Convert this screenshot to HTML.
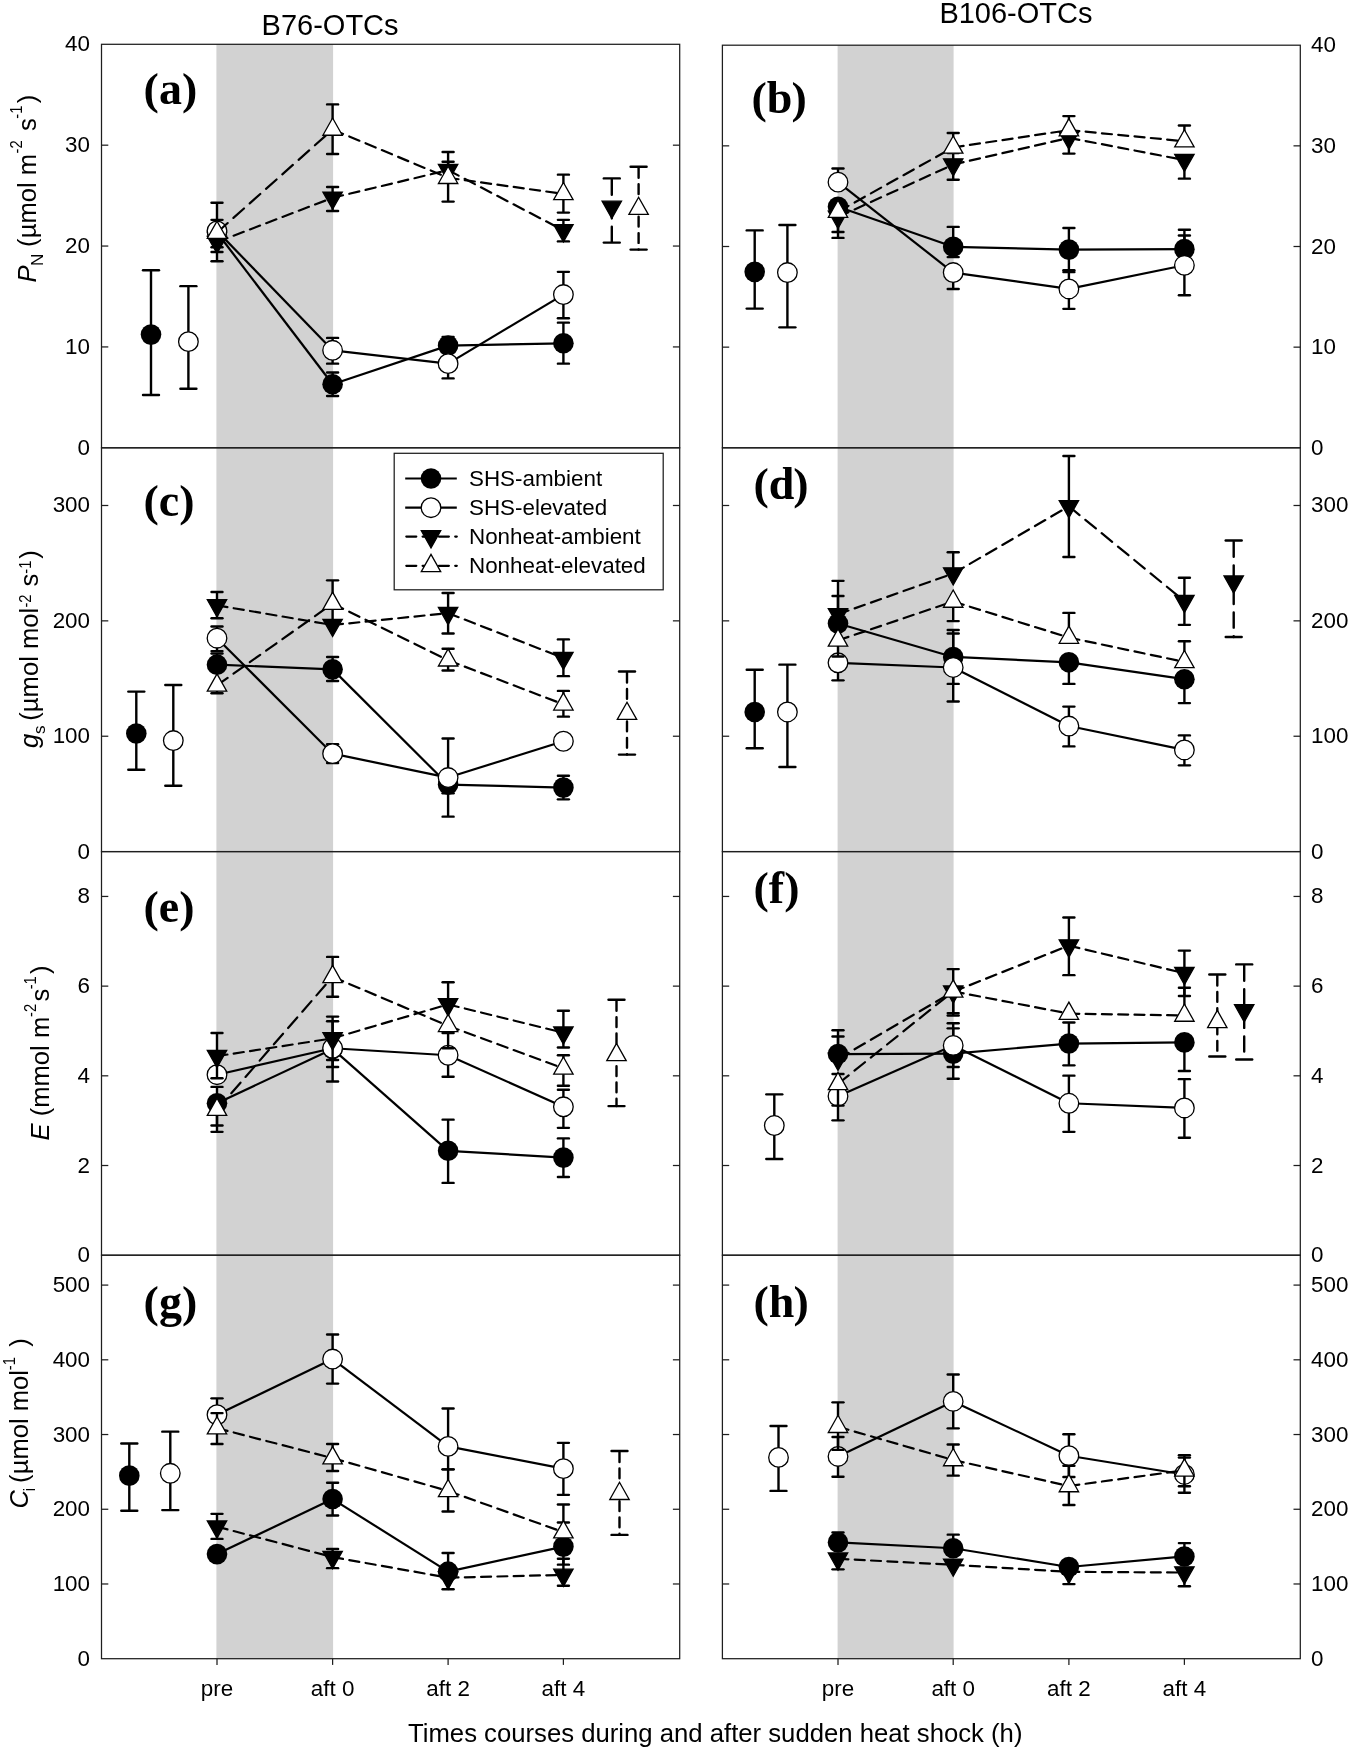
<!DOCTYPE html>
<html lang="en"><head><meta charset="utf-8"><title>Time courses during and after sudden heat shock</title>
<style>html,body{margin:0;padding:0;background:#fff}svg{display:block;filter:grayscale(1)}text{font-family:"Liberation Sans",sans-serif;fill:#000}.pl{font-family:"Liberation Serif",serif;font-weight:bold;font-size:46px}.tk{font-size:22.4px}.ax{font-size:25.7px}.ti{font-size:29px}.lg{font-size:22.4px}</style></head><body>
<svg width="1350" height="1751" viewBox="0 0 1350 1751">
<rect x="0" y="0" width="1350" height="1751" fill="#fff"/>
<rect x="216.4" y="44.3" width="116.7" height="1614.4" fill="#d2d2d2"/>
<rect x="837.6" y="45.2" width="116" height="1613.5" fill="#d2d2d2"/>
<text class="ti" x="261.6" y="35">B76-OTCs</text>
<text class="ti" x="939.4" y="23.4">B106-OTCs</text>
<g>
<line x1="217" y1="219.86" x2="217" y2="247.26" stroke="#000" stroke-width="2.4"/>
<line x1="211.5" y1="219.86" x2="222.5" y2="219.86" stroke="#000" stroke-width="2.4" stroke-linecap="round"/>
<line x1="211.5" y1="247.26" x2="222.5" y2="247.26" stroke="#000" stroke-width="2.4" stroke-linecap="round"/>
<line x1="332.6" y1="372.55" x2="332.6" y2="395.97" stroke="#000" stroke-width="2.4"/>
<line x1="327.1" y1="372.55" x2="338.1" y2="372.55" stroke="#000" stroke-width="2.4" stroke-linecap="round"/>
<line x1="327.1" y1="395.97" x2="338.1" y2="395.97" stroke="#000" stroke-width="2.4" stroke-linecap="round"/>
<line x1="448.1" y1="336.96" x2="448.1" y2="345.62" stroke="#000" stroke-width="2.4"/>
<line x1="442.6" y1="336.96" x2="453.6" y2="336.96" stroke="#000" stroke-width="2.4" stroke-linecap="round"/>
<line x1="563.4" y1="322.67" x2="563.4" y2="363.65" stroke="#000" stroke-width="2.4"/>
<line x1="557.9" y1="322.67" x2="568.9" y2="322.67" stroke="#000" stroke-width="2.4" stroke-linecap="round"/>
<line x1="557.9" y1="363.65" x2="568.9" y2="363.65" stroke="#000" stroke-width="2.4" stroke-linecap="round"/>
<line x1="217" y1="232.51" x2="332.6" y2="384.26" stroke="#000" stroke-width="2.2"/>
<line x1="332.6" y1="384.26" x2="448.1" y2="345.62" stroke="#000" stroke-width="2.2"/>
<line x1="448.1" y1="345.62" x2="563.4" y2="343.28" stroke="#000" stroke-width="2.2"/>
<circle cx="217" cy="232.51" r="10.3" fill="#000"/>
<circle cx="332.6" cy="384.26" r="10.3" fill="#000"/>
<circle cx="448.1" cy="345.62" r="10.3" fill="#000"/>
<circle cx="563.4" cy="343.28" r="10.3" fill="#000"/>
<line x1="217" y1="202.76" x2="217" y2="261.31" stroke="#000" stroke-width="2.4"/>
<line x1="211.5" y1="202.76" x2="222.5" y2="202.76" stroke="#000" stroke-width="2.4" stroke-linecap="round"/>
<line x1="211.5" y1="261.31" x2="222.5" y2="261.31" stroke="#000" stroke-width="2.4" stroke-linecap="round"/>
<line x1="332.6" y1="337.89" x2="332.6" y2="363.65" stroke="#000" stroke-width="2.4"/>
<line x1="327.1" y1="337.89" x2="338.1" y2="337.89" stroke="#000" stroke-width="2.4" stroke-linecap="round"/>
<line x1="327.1" y1="363.65" x2="338.1" y2="363.65" stroke="#000" stroke-width="2.4" stroke-linecap="round"/>
<line x1="448.1" y1="363.65" x2="448.1" y2="378.41" stroke="#000" stroke-width="2.4"/>
<line x1="442.6" y1="378.41" x2="453.6" y2="378.41" stroke="#000" stroke-width="2.4" stroke-linecap="round"/>
<line x1="563.4" y1="271.85" x2="563.4" y2="318.22" stroke="#000" stroke-width="2.4"/>
<line x1="557.9" y1="271.85" x2="568.9" y2="271.85" stroke="#000" stroke-width="2.4" stroke-linecap="round"/>
<line x1="557.9" y1="318.22" x2="568.9" y2="318.22" stroke="#000" stroke-width="2.4" stroke-linecap="round"/>
<line x1="217" y1="230.87" x2="332.6" y2="350.3" stroke="#000" stroke-width="2.2"/>
<line x1="332.6" y1="350.3" x2="448.1" y2="363.65" stroke="#000" stroke-width="2.2"/>
<line x1="448.1" y1="363.65" x2="563.4" y2="294.57" stroke="#000" stroke-width="2.2"/>
<circle cx="217" cy="230.87" r="9.8" fill="#fff" stroke="#000" stroke-width="1.3"/>
<circle cx="332.6" cy="350.3" r="9.8" fill="#fff" stroke="#000" stroke-width="1.3"/>
<circle cx="448.1" cy="363.65" r="9.8" fill="#fff" stroke="#000" stroke-width="1.3"/>
<circle cx="563.4" cy="294.57" r="9.8" fill="#fff" stroke="#000" stroke-width="1.3"/>
<line x1="217" y1="244.92" x2="217" y2="251.94" stroke="#000" stroke-width="2.4"/>
<line x1="211.5" y1="251.94" x2="222.5" y2="251.94" stroke="#000" stroke-width="2.4" stroke-linecap="round"/>
<line x1="332.6" y1="187.07" x2="332.6" y2="210.96" stroke="#000" stroke-width="2.4"/>
<line x1="327.1" y1="187.07" x2="338.1" y2="187.07" stroke="#000" stroke-width="2.4" stroke-linecap="round"/>
<line x1="327.1" y1="210.96" x2="338.1" y2="210.96" stroke="#000" stroke-width="2.4" stroke-linecap="round"/>
<line x1="448.1" y1="151.94" x2="448.1" y2="173.02" stroke="#000" stroke-width="2.4"/>
<line x1="442.6" y1="151.94" x2="453.6" y2="151.94" stroke="#000" stroke-width="2.4" stroke-linecap="round"/>
<line x1="563.4" y1="219.86" x2="563.4" y2="241.41" stroke="#000" stroke-width="2.4"/>
<line x1="557.9" y1="219.86" x2="568.9" y2="219.86" stroke="#000" stroke-width="2.4" stroke-linecap="round"/>
<line x1="557.9" y1="241.41" x2="568.9" y2="241.41" stroke="#000" stroke-width="2.4" stroke-linecap="round"/>
<line x1="217" y1="242.05" x2="332.6" y2="197.79" stroke="#000" stroke-width="2.2" stroke-linecap="round" stroke-dasharray="10.86 6.59" stroke-dashoffset="-0.35"/>
<line x1="332.6" y1="197.79" x2="448.1" y2="170.15" stroke="#000" stroke-width="2.2" stroke-linecap="round" stroke-dasharray="10.34 6.42" stroke-dashoffset="-0.38"/>
<line x1="448.1" y1="170.15" x2="563.4" y2="230.34" stroke="#000" stroke-width="2.2" stroke-linecap="round" stroke-dasharray="11.56 6.82" stroke-dashoffset="-0.31"/>
<path d="M207.3 236.32L226.7 236.32L217 253.52Z" fill="#000" stroke="#000" stroke-width="1.3" stroke-linejoin="miter"/>
<path d="M322.9 192.06L342.3 192.06L332.6 209.26Z" fill="#000" stroke="#000" stroke-width="1.3" stroke-linejoin="miter"/>
<path d="M438.4 164.42L457.8 164.42L448.1 181.62Z" fill="#000" stroke="#000" stroke-width="1.3" stroke-linejoin="miter"/>
<path d="M553.7 224.61L573.1 224.61L563.4 241.81Z" fill="#000" stroke="#000" stroke-width="1.3" stroke-linejoin="miter"/>
<line x1="332.6" y1="104.4" x2="332.6" y2="154.05" stroke="#000" stroke-width="2.4"/>
<line x1="327.1" y1="104.4" x2="338.1" y2="104.4" stroke="#000" stroke-width="2.4" stroke-linecap="round"/>
<line x1="327.1" y1="154.05" x2="338.1" y2="154.05" stroke="#000" stroke-width="2.4" stroke-linecap="round"/>
<line x1="448.1" y1="161.78" x2="448.1" y2="201.59" stroke="#000" stroke-width="2.4"/>
<line x1="442.6" y1="161.78" x2="453.6" y2="161.78" stroke="#000" stroke-width="2.4" stroke-linecap="round"/>
<line x1="442.6" y1="201.59" x2="453.6" y2="201.59" stroke="#000" stroke-width="2.4" stroke-linecap="round"/>
<line x1="563.4" y1="174.66" x2="563.4" y2="212.6" stroke="#000" stroke-width="2.4"/>
<line x1="557.9" y1="174.66" x2="568.9" y2="174.66" stroke="#000" stroke-width="2.4" stroke-linecap="round"/>
<line x1="557.9" y1="212.6" x2="568.9" y2="212.6" stroke="#000" stroke-width="2.4" stroke-linecap="round"/>
<line x1="217" y1="232.56" x2="332.6" y2="129.52" stroke="#000" stroke-width="2.2" stroke-linecap="round" stroke-dasharray="14.14 7.69" stroke-dashoffset="-0.16"/>
<line x1="332.6" y1="129.52" x2="448.1" y2="177.76" stroke="#000" stroke-width="2.2" stroke-linecap="round" stroke-dasharray="11.02 6.64" stroke-dashoffset="-0.34"/>
<line x1="448.1" y1="177.76" x2="563.4" y2="193.92" stroke="#000" stroke-width="2.2" stroke-linecap="round" stroke-dasharray="10.12 6.34" stroke-dashoffset="-0.39"/>
<path d="M207.3 238.3L226.7 238.3L217 221.1Z" fill="#fff" stroke="#000" stroke-width="1.3" stroke-linejoin="miter"/>
<path d="M322.9 135.25L342.3 135.25L332.6 118.05Z" fill="#fff" stroke="#000" stroke-width="1.3" stroke-linejoin="miter"/>
<path d="M438.4 183.49L457.8 183.49L448.1 166.29Z" fill="#fff" stroke="#000" stroke-width="1.3" stroke-linejoin="miter"/>
<path d="M553.7 199.65L573.1 199.65L563.4 182.45Z" fill="#fff" stroke="#000" stroke-width="1.3" stroke-linejoin="miter"/>
<line x1="151" y1="270.21" x2="151" y2="395.04" stroke="#000" stroke-width="2.4"/>
<line x1="143" y1="270.21" x2="159" y2="270.21" stroke="#000" stroke-width="2.4" stroke-linecap="round"/>
<line x1="143" y1="395.04" x2="159" y2="395.04" stroke="#000" stroke-width="2.4" stroke-linecap="round"/>
<circle cx="151" cy="334.61" r="10.3" fill="#000"/>
<line x1="188.4" y1="286.14" x2="188.4" y2="388.71" stroke="#000" stroke-width="2.4"/>
<line x1="180.4" y1="286.14" x2="196.4" y2="286.14" stroke="#000" stroke-width="2.4" stroke-linecap="round"/>
<line x1="180.4" y1="388.71" x2="196.4" y2="388.71" stroke="#000" stroke-width="2.4" stroke-linecap="round"/>
<circle cx="188.4" cy="341.64" r="9.8" fill="#fff" stroke="#000" stroke-width="1.3"/>
<line x1="611.8" y1="178.41" x2="611.8" y2="242.58" stroke="#000" stroke-width="2.4" stroke-linecap="round" stroke-dasharray="15.1 8.5" stroke-dashoffset="-1.2"/>
<line x1="603.8" y1="178.41" x2="619.8" y2="178.41" stroke="#000" stroke-width="2.4" stroke-linecap="round"/>
<line x1="603.8" y1="242.58" x2="619.8" y2="242.58" stroke="#000" stroke-width="2.4" stroke-linecap="round"/>
<path d="M602.1 201.19L621.5 201.19L611.8 218.39Z" fill="#000" stroke="#000" stroke-width="1.3" stroke-linejoin="miter"/>
<line x1="638.6" y1="166.7" x2="638.6" y2="249.6" stroke="#000" stroke-width="2.4" stroke-linecap="round" stroke-dasharray="9.8 6.5" stroke-dashoffset="-1.2"/>
<line x1="630.6" y1="166.7" x2="646.6" y2="166.7" stroke="#000" stroke-width="2.4" stroke-linecap="round"/>
<line x1="630.6" y1="249.6" x2="646.6" y2="249.6" stroke="#000" stroke-width="2.4" stroke-linecap="round"/>
<path d="M628.9 214.41L648.3 214.41L638.6 197.21Z" fill="#fff" stroke="#000" stroke-width="1.3" stroke-linejoin="miter"/>
</g>
<g>
<line x1="838" y1="206.74" x2="838" y2="232.04" stroke="#000" stroke-width="2.4"/>
<line x1="832.5" y1="232.04" x2="843.5" y2="232.04" stroke="#000" stroke-width="2.4" stroke-linecap="round"/>
<line x1="953.2" y1="226.89" x2="953.2" y2="257.1" stroke="#000" stroke-width="2.4"/>
<line x1="947.7" y1="226.89" x2="958.7" y2="226.89" stroke="#000" stroke-width="2.4" stroke-linecap="round"/>
<line x1="947.7" y1="257.1" x2="958.7" y2="257.1" stroke="#000" stroke-width="2.4" stroke-linecap="round"/>
<line x1="1068.9" y1="228.06" x2="1068.9" y2="272.08" stroke="#000" stroke-width="2.4"/>
<line x1="1063.4" y1="228.06" x2="1074.4" y2="228.06" stroke="#000" stroke-width="2.4" stroke-linecap="round"/>
<line x1="1063.4" y1="272.08" x2="1074.4" y2="272.08" stroke="#000" stroke-width="2.4" stroke-linecap="round"/>
<line x1="1184.4" y1="229.7" x2="1184.4" y2="249.13" stroke="#000" stroke-width="2.4"/>
<line x1="1178.9" y1="229.7" x2="1189.9" y2="229.7" stroke="#000" stroke-width="2.4" stroke-linecap="round"/>
<line x1="838" y1="206.74" x2="953.2" y2="246.79" stroke="#000" stroke-width="2.2"/>
<line x1="953.2" y1="246.79" x2="1068.9" y2="249.6" stroke="#000" stroke-width="2.2"/>
<line x1="1068.9" y1="249.6" x2="1184.4" y2="249.13" stroke="#000" stroke-width="2.2"/>
<circle cx="838" cy="206.74" r="10.3" fill="#000"/>
<circle cx="953.2" cy="246.79" r="10.3" fill="#000"/>
<circle cx="1068.9" cy="249.6" r="10.3" fill="#000"/>
<circle cx="1184.4" cy="249.13" r="10.3" fill="#000"/>
<line x1="838" y1="168.57" x2="838" y2="182.15" stroke="#000" stroke-width="2.4"/>
<line x1="832.5" y1="168.57" x2="843.5" y2="168.57" stroke="#000" stroke-width="2.4" stroke-linecap="round"/>
<line x1="953.2" y1="272.55" x2="953.2" y2="288.95" stroke="#000" stroke-width="2.4"/>
<line x1="947.7" y1="288.95" x2="958.7" y2="288.95" stroke="#000" stroke-width="2.4" stroke-linecap="round"/>
<line x1="1068.9" y1="270.21" x2="1068.9" y2="308.85" stroke="#000" stroke-width="2.4"/>
<line x1="1063.4" y1="270.21" x2="1074.4" y2="270.21" stroke="#000" stroke-width="2.4" stroke-linecap="round"/>
<line x1="1063.4" y1="308.85" x2="1074.4" y2="308.85" stroke="#000" stroke-width="2.4" stroke-linecap="round"/>
<line x1="1184.4" y1="235.55" x2="1184.4" y2="295.27" stroke="#000" stroke-width="2.4"/>
<line x1="1178.9" y1="235.55" x2="1189.9" y2="235.55" stroke="#000" stroke-width="2.4" stroke-linecap="round"/>
<line x1="1178.9" y1="295.27" x2="1189.9" y2="295.27" stroke="#000" stroke-width="2.4" stroke-linecap="round"/>
<line x1="838" y1="182.15" x2="953.2" y2="272.55" stroke="#000" stroke-width="2.2"/>
<line x1="953.2" y1="272.55" x2="1068.9" y2="288.95" stroke="#000" stroke-width="2.2"/>
<line x1="1068.9" y1="288.95" x2="1184.4" y2="265.29" stroke="#000" stroke-width="2.2"/>
<circle cx="838" cy="182.15" r="9.8" fill="#fff" stroke="#000" stroke-width="1.3"/>
<circle cx="953.2" cy="272.55" r="9.8" fill="#fff" stroke="#000" stroke-width="1.3"/>
<circle cx="1068.9" cy="288.95" r="9.8" fill="#fff" stroke="#000" stroke-width="1.3"/>
<circle cx="1184.4" cy="265.29" r="9.8" fill="#fff" stroke="#000" stroke-width="1.3"/>
<line x1="838" y1="219.86" x2="838" y2="237.89" stroke="#000" stroke-width="2.4"/>
<line x1="832.5" y1="237.89" x2="843.5" y2="237.89" stroke="#000" stroke-width="2.4" stroke-linecap="round"/>
<line x1="953.2" y1="153.11" x2="953.2" y2="179.81" stroke="#000" stroke-width="2.4"/>
<line x1="947.7" y1="153.11" x2="958.7" y2="153.11" stroke="#000" stroke-width="2.4" stroke-linecap="round"/>
<line x1="947.7" y1="179.81" x2="958.7" y2="179.81" stroke="#000" stroke-width="2.4" stroke-linecap="round"/>
<line x1="1068.9" y1="140.7" x2="1068.9" y2="153.58" stroke="#000" stroke-width="2.4"/>
<line x1="1063.4" y1="153.58" x2="1074.4" y2="153.58" stroke="#000" stroke-width="2.4" stroke-linecap="round"/>
<line x1="1184.4" y1="162.95" x2="1184.4" y2="178.64" stroke="#000" stroke-width="2.4"/>
<line x1="1178.9" y1="178.64" x2="1189.9" y2="178.64" stroke="#000" stroke-width="2.4" stroke-linecap="round"/>
<line x1="838" y1="216.99" x2="953.2" y2="164.53" stroke="#000" stroke-width="2.2" stroke-linecap="round" stroke-dasharray="11.21 6.71" stroke-dashoffset="-0.33"/>
<line x1="953.2" y1="164.53" x2="1068.9" y2="137.84" stroke="#000" stroke-width="2.2" stroke-linecap="round" stroke-dasharray="10.32 6.41" stroke-dashoffset="-0.38"/>
<line x1="1068.9" y1="137.84" x2="1184.4" y2="160.08" stroke="#000" stroke-width="2.2" stroke-linecap="round" stroke-dasharray="10.22 6.38" stroke-dashoffset="-0.39"/>
<path d="M828.3 211.26L847.7 211.26L838 228.46Z" fill="#000" stroke="#000" stroke-width="1.3" stroke-linejoin="miter"/>
<path d="M943.5 158.8L962.9 158.8L953.2 176Z" fill="#000" stroke="#000" stroke-width="1.3" stroke-linejoin="miter"/>
<path d="M1059.2 132.1L1078.6 132.1L1068.9 149.3Z" fill="#000" stroke="#000" stroke-width="1.3" stroke-linejoin="miter"/>
<path d="M1174.7 154.35L1194.1 154.35L1184.4 171.55Z" fill="#000" stroke="#000" stroke-width="1.3" stroke-linejoin="miter"/>
<line x1="953.2" y1="132.97" x2="953.2" y2="144.57" stroke="#000" stroke-width="2.4"/>
<line x1="947.7" y1="132.97" x2="958.7" y2="132.97" stroke="#000" stroke-width="2.4" stroke-linecap="round"/>
<line x1="1068.9" y1="116.11" x2="1068.9" y2="127.24" stroke="#000" stroke-width="2.4"/>
<line x1="1063.4" y1="116.11" x2="1074.4" y2="116.11" stroke="#000" stroke-width="2.4" stroke-linecap="round"/>
<line x1="1184.4" y1="125.48" x2="1184.4" y2="138.36" stroke="#000" stroke-width="2.4"/>
<line x1="1178.9" y1="125.48" x2="1189.9" y2="125.48" stroke="#000" stroke-width="2.4" stroke-linecap="round"/>
<line x1="838" y1="211.72" x2="953.2" y2="147.43" stroke="#000" stroke-width="2.2" stroke-linecap="round" stroke-dasharray="11.77 6.9" stroke-dashoffset="-0.3"/>
<line x1="953.2" y1="147.43" x2="1068.9" y2="130.1" stroke="#000" stroke-width="2.2" stroke-linecap="round" stroke-dasharray="10.14 6.35" stroke-dashoffset="-0.39"/>
<line x1="1068.9" y1="130.1" x2="1184.4" y2="141.23" stroke="#000" stroke-width="2.2" stroke-linecap="round" stroke-dasharray="10.06 6.32" stroke-dashoffset="-0.4"/>
<path d="M828.3 217.45L847.7 217.45L838 200.25Z" fill="#fff" stroke="#000" stroke-width="1.3" stroke-linejoin="miter"/>
<path d="M943.5 153.17L962.9 153.17L953.2 135.97Z" fill="#fff" stroke="#000" stroke-width="1.3" stroke-linejoin="miter"/>
<path d="M1059.2 135.84L1078.6 135.84L1068.9 118.64Z" fill="#fff" stroke="#000" stroke-width="1.3" stroke-linejoin="miter"/>
<path d="M1174.7 146.96L1194.1 146.96L1184.4 129.76Z" fill="#fff" stroke="#000" stroke-width="1.3" stroke-linejoin="miter"/>
<line x1="754.7" y1="230.4" x2="754.7" y2="308.62" stroke="#000" stroke-width="2.4"/>
<line x1="746.7" y1="230.4" x2="762.7" y2="230.4" stroke="#000" stroke-width="2.4" stroke-linecap="round"/>
<line x1="746.7" y1="308.62" x2="762.7" y2="308.62" stroke="#000" stroke-width="2.4" stroke-linecap="round"/>
<circle cx="754.7" cy="271.85" r="10.3" fill="#000"/>
<line x1="787.4" y1="225.01" x2="787.4" y2="327.35" stroke="#000" stroke-width="2.4"/>
<line x1="779.4" y1="225.01" x2="795.4" y2="225.01" stroke="#000" stroke-width="2.4" stroke-linecap="round"/>
<line x1="779.4" y1="327.35" x2="795.4" y2="327.35" stroke="#000" stroke-width="2.4" stroke-linecap="round"/>
<circle cx="787.4" cy="272.55" r="9.8" fill="#fff" stroke="#000" stroke-width="1.3"/>
</g>
<g>
<line x1="217" y1="653.43" x2="217" y2="664.67" stroke="#000" stroke-width="2.4"/>
<line x1="211.5" y1="653.43" x2="222.5" y2="653.43" stroke="#000" stroke-width="2.4" stroke-linecap="round"/>
<line x1="332.6" y1="656.94" x2="332.6" y2="681.07" stroke="#000" stroke-width="2.4"/>
<line x1="327.1" y1="656.94" x2="338.1" y2="656.94" stroke="#000" stroke-width="2.4" stroke-linecap="round"/>
<line x1="327.1" y1="681.07" x2="338.1" y2="681.07" stroke="#000" stroke-width="2.4" stroke-linecap="round"/>
<line x1="448.1" y1="784.58" x2="448.1" y2="793.24" stroke="#000" stroke-width="2.4"/>
<line x1="442.6" y1="793.24" x2="453.6" y2="793.24" stroke="#000" stroke-width="2.4" stroke-linecap="round"/>
<line x1="563.4" y1="775.68" x2="563.4" y2="799.33" stroke="#000" stroke-width="2.4"/>
<line x1="557.9" y1="775.68" x2="568.9" y2="775.68" stroke="#000" stroke-width="2.4" stroke-linecap="round"/>
<line x1="557.9" y1="799.33" x2="568.9" y2="799.33" stroke="#000" stroke-width="2.4" stroke-linecap="round"/>
<line x1="217" y1="664.67" x2="332.6" y2="669.36" stroke="#000" stroke-width="2.2"/>
<line x1="332.6" y1="669.36" x2="448.1" y2="784.58" stroke="#000" stroke-width="2.2"/>
<line x1="448.1" y1="784.58" x2="563.4" y2="787.62" stroke="#000" stroke-width="2.2"/>
<circle cx="217" cy="664.67" r="10.3" fill="#000"/>
<circle cx="332.6" cy="669.36" r="10.3" fill="#000"/>
<circle cx="448.1" cy="784.58" r="10.3" fill="#000"/>
<circle cx="563.4" cy="787.62" r="10.3" fill="#000"/>
<line x1="217" y1="626.5" x2="217" y2="651.09" stroke="#000" stroke-width="2.4"/>
<line x1="211.5" y1="626.5" x2="222.5" y2="626.5" stroke="#000" stroke-width="2.4" stroke-linecap="round"/>
<line x1="211.5" y1="651.09" x2="222.5" y2="651.09" stroke="#000" stroke-width="2.4" stroke-linecap="round"/>
<line x1="332.6" y1="744.3" x2="332.6" y2="763.03" stroke="#000" stroke-width="2.4"/>
<line x1="327.1" y1="744.3" x2="338.1" y2="744.3" stroke="#000" stroke-width="2.4" stroke-linecap="round"/>
<line x1="327.1" y1="763.03" x2="338.1" y2="763.03" stroke="#000" stroke-width="2.4" stroke-linecap="round"/>
<line x1="448.1" y1="738.44" x2="448.1" y2="816.66" stroke="#000" stroke-width="2.4"/>
<line x1="442.6" y1="738.44" x2="453.6" y2="738.44" stroke="#000" stroke-width="2.4" stroke-linecap="round"/>
<line x1="442.6" y1="816.66" x2="453.6" y2="816.66" stroke="#000" stroke-width="2.4" stroke-linecap="round"/>
<line x1="217" y1="638.21" x2="332.6" y2="753.67" stroke="#000" stroke-width="2.2"/>
<line x1="332.6" y1="753.67" x2="448.1" y2="777.55" stroke="#000" stroke-width="2.2"/>
<line x1="448.1" y1="777.55" x2="563.4" y2="741.25" stroke="#000" stroke-width="2.2"/>
<circle cx="217" cy="638.21" r="9.8" fill="#fff" stroke="#000" stroke-width="1.3"/>
<circle cx="332.6" cy="753.67" r="9.8" fill="#fff" stroke="#000" stroke-width="1.3"/>
<circle cx="448.1" cy="777.55" r="9.8" fill="#fff" stroke="#000" stroke-width="1.3"/>
<circle cx="563.4" cy="741.25" r="9.8" fill="#fff" stroke="#000" stroke-width="1.3"/>
<line x1="217" y1="592.07" x2="217" y2="618.3" stroke="#000" stroke-width="2.4"/>
<line x1="211.5" y1="592.07" x2="222.5" y2="592.07" stroke="#000" stroke-width="2.4" stroke-linecap="round"/>
<line x1="211.5" y1="618.3" x2="222.5" y2="618.3" stroke="#000" stroke-width="2.4" stroke-linecap="round"/>
<line x1="332.6" y1="606.59" x2="332.6" y2="627.9" stroke="#000" stroke-width="2.4"/>
<line x1="327.1" y1="606.59" x2="338.1" y2="606.59" stroke="#000" stroke-width="2.4" stroke-linecap="round"/>
<line x1="448.1" y1="593.01" x2="448.1" y2="633.52" stroke="#000" stroke-width="2.4"/>
<line x1="442.6" y1="593.01" x2="453.6" y2="593.01" stroke="#000" stroke-width="2.4" stroke-linecap="round"/>
<line x1="442.6" y1="633.52" x2="453.6" y2="633.52" stroke="#000" stroke-width="2.4" stroke-linecap="round"/>
<line x1="563.4" y1="639.38" x2="563.4" y2="676.15" stroke="#000" stroke-width="2.4"/>
<line x1="557.9" y1="639.38" x2="568.9" y2="639.38" stroke="#000" stroke-width="2.4" stroke-linecap="round"/>
<line x1="557.9" y1="676.15" x2="568.9" y2="676.15" stroke="#000" stroke-width="2.4" stroke-linecap="round"/>
<line x1="217" y1="605.37" x2="332.6" y2="625.04" stroke="#000" stroke-width="2.2" stroke-linecap="round" stroke-dasharray="10.18 6.36" stroke-dashoffset="-0.39"/>
<line x1="332.6" y1="625.04" x2="448.1" y2="613.09" stroke="#000" stroke-width="2.2" stroke-linecap="round" stroke-dasharray="10.07 6.32" stroke-dashoffset="-0.4"/>
<line x1="448.1" y1="613.09" x2="563.4" y2="658.06" stroke="#000" stroke-width="2.2" stroke-linecap="round" stroke-dasharray="10.89 6.6" stroke-dashoffset="-0.35"/>
<path d="M207.3 599.63L226.7 599.63L217 616.83Z" fill="#000" stroke="#000" stroke-width="1.3" stroke-linejoin="miter"/>
<path d="M322.9 619.3L342.3 619.3L332.6 636.5Z" fill="#000" stroke="#000" stroke-width="1.3" stroke-linejoin="miter"/>
<path d="M438.4 607.36L457.8 607.36L448.1 624.56Z" fill="#000" stroke="#000" stroke-width="1.3" stroke-linejoin="miter"/>
<path d="M553.7 652.33L573.1 652.33L563.4 669.53Z" fill="#000" stroke="#000" stroke-width="1.3" stroke-linejoin="miter"/>
<line x1="217" y1="682.47" x2="217" y2="693.24" stroke="#000" stroke-width="2.4"/>
<line x1="211.5" y1="693.24" x2="222.5" y2="693.24" stroke="#000" stroke-width="2.4" stroke-linecap="round"/>
<line x1="332.6" y1="580.36" x2="332.6" y2="600.74" stroke="#000" stroke-width="2.4"/>
<line x1="327.1" y1="580.36" x2="338.1" y2="580.36" stroke="#000" stroke-width="2.4" stroke-linecap="round"/>
<line x1="448.1" y1="648.75" x2="448.1" y2="670.53" stroke="#000" stroke-width="2.4"/>
<line x1="442.6" y1="648.75" x2="453.6" y2="648.75" stroke="#000" stroke-width="2.4" stroke-linecap="round"/>
<line x1="442.6" y1="670.53" x2="453.6" y2="670.53" stroke="#000" stroke-width="2.4" stroke-linecap="round"/>
<line x1="563.4" y1="690.9" x2="563.4" y2="716.66" stroke="#000" stroke-width="2.4"/>
<line x1="557.9" y1="690.9" x2="568.9" y2="690.9" stroke="#000" stroke-width="2.4" stroke-linecap="round"/>
<line x1="557.9" y1="716.66" x2="568.9" y2="716.66" stroke="#000" stroke-width="2.4" stroke-linecap="round"/>
<line x1="217" y1="685.34" x2="332.6" y2="603.6" stroke="#000" stroke-width="2.2" stroke-linecap="round" stroke-dasharray="12.74 7.22" stroke-dashoffset="-0.24"/>
<line x1="332.6" y1="603.6" x2="448.1" y2="660.28" stroke="#000" stroke-width="2.2" stroke-linecap="round" stroke-dasharray="11.39 6.77" stroke-dashoffset="-0.32"/>
<line x1="448.1" y1="660.28" x2="563.4" y2="704.31" stroke="#000" stroke-width="2.2" stroke-linecap="round" stroke-dasharray="10.86 6.59" stroke-dashoffset="-0.35"/>
<path d="M207.3 691.07L226.7 691.07L217 673.87Z" fill="#fff" stroke="#000" stroke-width="1.3" stroke-linejoin="miter"/>
<path d="M322.9 609.34L342.3 609.34L332.6 592.14Z" fill="#fff" stroke="#000" stroke-width="1.3" stroke-linejoin="miter"/>
<path d="M438.4 666.01L457.8 666.01L448.1 648.81Z" fill="#fff" stroke="#000" stroke-width="1.3" stroke-linejoin="miter"/>
<path d="M553.7 710.04L573.1 710.04L563.4 692.84Z" fill="#fff" stroke="#000" stroke-width="1.3" stroke-linejoin="miter"/>
<line x1="136.3" y1="691.6" x2="136.3" y2="769.82" stroke="#000" stroke-width="2.4"/>
<line x1="128.3" y1="691.6" x2="144.3" y2="691.6" stroke="#000" stroke-width="2.4" stroke-linecap="round"/>
<line x1="128.3" y1="769.82" x2="144.3" y2="769.82" stroke="#000" stroke-width="2.4" stroke-linecap="round"/>
<circle cx="136.3" cy="733.52" r="10.3" fill="#000"/>
<line x1="173.3" y1="685.05" x2="173.3" y2="785.75" stroke="#000" stroke-width="2.4"/>
<line x1="165.3" y1="685.05" x2="181.3" y2="685.05" stroke="#000" stroke-width="2.4" stroke-linecap="round"/>
<line x1="165.3" y1="785.75" x2="181.3" y2="785.75" stroke="#000" stroke-width="2.4" stroke-linecap="round"/>
<circle cx="173.3" cy="740.55" r="9.8" fill="#fff" stroke="#000" stroke-width="1.3"/>
<line x1="627" y1="671.46" x2="627" y2="754.6" stroke="#000" stroke-width="2.4" stroke-linecap="round" stroke-dasharray="9.8 6.5" stroke-dashoffset="-1.2"/>
<line x1="619" y1="671.46" x2="635" y2="671.46" stroke="#000" stroke-width="2.4" stroke-linecap="round"/>
<line x1="619" y1="754.6" x2="635" y2="754.6" stroke="#000" stroke-width="2.4" stroke-linecap="round"/>
<path d="M617.3 719.41L636.7 719.41L627 702.21Z" fill="#fff" stroke="#000" stroke-width="1.3" stroke-linejoin="miter"/>
</g>
<g>
<line x1="953.2" y1="630.01" x2="953.2" y2="683.88" stroke="#000" stroke-width="2.4"/>
<line x1="947.7" y1="630.01" x2="958.7" y2="630.01" stroke="#000" stroke-width="2.4" stroke-linecap="round"/>
<line x1="947.7" y1="683.88" x2="958.7" y2="683.88" stroke="#000" stroke-width="2.4" stroke-linecap="round"/>
<line x1="1068.9" y1="662.33" x2="1068.9" y2="683.88" stroke="#000" stroke-width="2.4"/>
<line x1="1063.4" y1="683.88" x2="1074.4" y2="683.88" stroke="#000" stroke-width="2.4" stroke-linecap="round"/>
<line x1="1184.4" y1="679.19" x2="1184.4" y2="703.08" stroke="#000" stroke-width="2.4"/>
<line x1="1178.9" y1="703.08" x2="1189.9" y2="703.08" stroke="#000" stroke-width="2.4" stroke-linecap="round"/>
<line x1="838" y1="623.45" x2="953.2" y2="656.94" stroke="#000" stroke-width="2.2"/>
<line x1="953.2" y1="656.94" x2="1068.9" y2="662.33" stroke="#000" stroke-width="2.2"/>
<line x1="1068.9" y1="662.33" x2="1184.4" y2="679.19" stroke="#000" stroke-width="2.2"/>
<circle cx="838" cy="623.45" r="10.3" fill="#000"/>
<circle cx="953.2" cy="656.94" r="10.3" fill="#000"/>
<circle cx="1068.9" cy="662.33" r="10.3" fill="#000"/>
<circle cx="1184.4" cy="679.19" r="10.3" fill="#000"/>
<line x1="838" y1="662.8" x2="838" y2="680.36" stroke="#000" stroke-width="2.4"/>
<line x1="832.5" y1="680.36" x2="843.5" y2="680.36" stroke="#000" stroke-width="2.4" stroke-linecap="round"/>
<line x1="953.2" y1="633.52" x2="953.2" y2="701.44" stroke="#000" stroke-width="2.4"/>
<line x1="947.7" y1="633.52" x2="958.7" y2="633.52" stroke="#000" stroke-width="2.4" stroke-linecap="round"/>
<line x1="947.7" y1="701.44" x2="958.7" y2="701.44" stroke="#000" stroke-width="2.4" stroke-linecap="round"/>
<line x1="1068.9" y1="706.59" x2="1068.9" y2="746.41" stroke="#000" stroke-width="2.4"/>
<line x1="1063.4" y1="706.59" x2="1074.4" y2="706.59" stroke="#000" stroke-width="2.4" stroke-linecap="round"/>
<line x1="1063.4" y1="746.41" x2="1074.4" y2="746.41" stroke="#000" stroke-width="2.4" stroke-linecap="round"/>
<line x1="1184.4" y1="735.4" x2="1184.4" y2="765.37" stroke="#000" stroke-width="2.4"/>
<line x1="1178.9" y1="735.4" x2="1189.9" y2="735.4" stroke="#000" stroke-width="2.4" stroke-linecap="round"/>
<line x1="1178.9" y1="765.37" x2="1189.9" y2="765.37" stroke="#000" stroke-width="2.4" stroke-linecap="round"/>
<line x1="838" y1="662.8" x2="953.2" y2="667.48" stroke="#000" stroke-width="2.2"/>
<line x1="953.2" y1="667.48" x2="1068.9" y2="726.03" stroke="#000" stroke-width="2.2"/>
<line x1="1068.9" y1="726.03" x2="1184.4" y2="749.92" stroke="#000" stroke-width="2.2"/>
<circle cx="838" cy="662.8" r="9.8" fill="#fff" stroke="#000" stroke-width="1.3"/>
<circle cx="953.2" cy="667.48" r="9.8" fill="#fff" stroke="#000" stroke-width="1.3"/>
<circle cx="1068.9" cy="726.03" r="9.8" fill="#fff" stroke="#000" stroke-width="1.3"/>
<circle cx="1184.4" cy="749.92" r="9.8" fill="#fff" stroke="#000" stroke-width="1.3"/>
<line x1="838" y1="580.83" x2="838" y2="617.13" stroke="#000" stroke-width="2.4"/>
<line x1="832.5" y1="580.83" x2="843.5" y2="580.83" stroke="#000" stroke-width="2.4" stroke-linecap="round"/>
<line x1="953.2" y1="552.26" x2="953.2" y2="576.38" stroke="#000" stroke-width="2.4"/>
<line x1="947.7" y1="552.26" x2="958.7" y2="552.26" stroke="#000" stroke-width="2.4" stroke-linecap="round"/>
<line x1="1068.9" y1="456.01" x2="1068.9" y2="556.94" stroke="#000" stroke-width="2.4"/>
<line x1="1063.4" y1="456.01" x2="1074.4" y2="456.01" stroke="#000" stroke-width="2.4" stroke-linecap="round"/>
<line x1="1063.4" y1="556.94" x2="1074.4" y2="556.94" stroke="#000" stroke-width="2.4" stroke-linecap="round"/>
<line x1="1184.4" y1="577.79" x2="1184.4" y2="624.86" stroke="#000" stroke-width="2.4"/>
<line x1="1178.9" y1="577.79" x2="1189.9" y2="577.79" stroke="#000" stroke-width="2.4" stroke-linecap="round"/>
<line x1="1178.9" y1="624.86" x2="1189.9" y2="624.86" stroke="#000" stroke-width="2.4" stroke-linecap="round"/>
<line x1="838" y1="614.26" x2="953.2" y2="573.52" stroke="#000" stroke-width="2.2" stroke-linecap="round" stroke-dasharray="10.74 6.55" stroke-dashoffset="-0.36"/>
<line x1="953.2" y1="573.52" x2="1068.9" y2="506.3" stroke="#000" stroke-width="2.2" stroke-linecap="round" stroke-dasharray="11.91 6.94" stroke-dashoffset="-0.29"/>
<line x1="1068.9" y1="506.3" x2="1184.4" y2="601.15" stroke="#000" stroke-width="2.2" stroke-linecap="round" stroke-dasharray="13.59 7.51" stroke-dashoffset="-0.19"/>
<path d="M828.3 608.53L847.7 608.53L838 625.73Z" fill="#000" stroke="#000" stroke-width="1.3" stroke-linejoin="miter"/>
<path d="M943.5 567.78L962.9 567.78L953.2 584.98Z" fill="#000" stroke="#000" stroke-width="1.3" stroke-linejoin="miter"/>
<path d="M1059.2 500.57L1078.6 500.57L1068.9 517.77Z" fill="#000" stroke="#000" stroke-width="1.3" stroke-linejoin="miter"/>
<path d="M1174.7 595.42L1194.1 595.42L1184.4 612.62Z" fill="#000" stroke="#000" stroke-width="1.3" stroke-linejoin="miter"/>
<line x1="838" y1="596.05" x2="838" y2="656.48" stroke="#000" stroke-width="2.4"/>
<line x1="832.5" y1="596.05" x2="843.5" y2="596.05" stroke="#000" stroke-width="2.4" stroke-linecap="round"/>
<line x1="832.5" y1="656.48" x2="843.5" y2="656.48" stroke="#000" stroke-width="2.4" stroke-linecap="round"/>
<line x1="953.2" y1="598.63" x2="953.2" y2="621.11" stroke="#000" stroke-width="2.4"/>
<line x1="947.7" y1="621.11" x2="958.7" y2="621.11" stroke="#000" stroke-width="2.4" stroke-linecap="round"/>
<line x1="1068.9" y1="612.92" x2="1068.9" y2="634.7" stroke="#000" stroke-width="2.4"/>
<line x1="1063.4" y1="612.92" x2="1074.4" y2="612.92" stroke="#000" stroke-width="2.4" stroke-linecap="round"/>
<line x1="1184.4" y1="641.25" x2="1184.4" y2="659.05" stroke="#000" stroke-width="2.4"/>
<line x1="1178.9" y1="641.25" x2="1189.9" y2="641.25" stroke="#000" stroke-width="2.4" stroke-linecap="round"/>
<line x1="838" y1="640.37" x2="953.2" y2="601.5" stroke="#000" stroke-width="2.2" stroke-linecap="round" stroke-dasharray="10.68 6.53" stroke-dashoffset="-0.36"/>
<line x1="953.2" y1="601.5" x2="1068.9" y2="637.56" stroke="#000" stroke-width="2.2" stroke-linecap="round" stroke-dasharray="10.58 6.49" stroke-dashoffset="-0.37"/>
<line x1="1068.9" y1="637.56" x2="1184.4" y2="661.92" stroke="#000" stroke-width="2.2" stroke-linecap="round" stroke-dasharray="10.27 6.39" stroke-dashoffset="-0.38"/>
<path d="M828.3 646.11L847.7 646.11L838 628.91Z" fill="#fff" stroke="#000" stroke-width="1.3" stroke-linejoin="miter"/>
<path d="M943.5 607.23L962.9 607.23L953.2 590.03Z" fill="#fff" stroke="#000" stroke-width="1.3" stroke-linejoin="miter"/>
<path d="M1059.2 643.3L1078.6 643.3L1068.9 626.1Z" fill="#fff" stroke="#000" stroke-width="1.3" stroke-linejoin="miter"/>
<path d="M1174.7 667.65L1194.1 667.65L1184.4 650.45Z" fill="#fff" stroke="#000" stroke-width="1.3" stroke-linejoin="miter"/>
<line x1="754.7" y1="669.82" x2="754.7" y2="748.28" stroke="#000" stroke-width="2.4"/>
<line x1="746.7" y1="669.82" x2="762.7" y2="669.82" stroke="#000" stroke-width="2.4" stroke-linecap="round"/>
<line x1="746.7" y1="748.28" x2="762.7" y2="748.28" stroke="#000" stroke-width="2.4" stroke-linecap="round"/>
<circle cx="754.7" cy="711.98" r="10.3" fill="#000"/>
<line x1="787.4" y1="664.67" x2="787.4" y2="767.01" stroke="#000" stroke-width="2.4"/>
<line x1="779.4" y1="664.67" x2="795.4" y2="664.67" stroke="#000" stroke-width="2.4" stroke-linecap="round"/>
<line x1="779.4" y1="767.01" x2="795.4" y2="767.01" stroke="#000" stroke-width="2.4" stroke-linecap="round"/>
<circle cx="787.4" cy="711.98" r="9.8" fill="#fff" stroke="#000" stroke-width="1.3"/>
<line x1="1233.7" y1="540.55" x2="1233.7" y2="637.04" stroke="#000" stroke-width="2.4" stroke-linecap="round" stroke-dasharray="15.1 8.5" stroke-dashoffset="-1.2"/>
<line x1="1225.7" y1="540.55" x2="1241.7" y2="540.55" stroke="#000" stroke-width="2.4" stroke-linecap="round"/>
<line x1="1225.7" y1="637.04" x2="1241.7" y2="637.04" stroke="#000" stroke-width="2.4" stroke-linecap="round"/>
<path d="M1224 575.98L1243.4 575.98L1233.7 593.18Z" fill="#000" stroke="#000" stroke-width="1.3" stroke-linejoin="miter"/>
</g>
<g>
<line x1="217" y1="1086.88" x2="217" y2="1131.84" stroke="#000" stroke-width="2.4"/>
<line x1="211.5" y1="1086.88" x2="222.5" y2="1086.88" stroke="#000" stroke-width="2.4" stroke-linecap="round"/>
<line x1="211.5" y1="1131.84" x2="222.5" y2="1131.84" stroke="#000" stroke-width="2.4" stroke-linecap="round"/>
<line x1="332.6" y1="1048.94" x2="332.6" y2="1081.49" stroke="#000" stroke-width="2.4"/>
<line x1="327.1" y1="1081.49" x2="338.1" y2="1081.49" stroke="#000" stroke-width="2.4" stroke-linecap="round"/>
<line x1="448.1" y1="1119.66" x2="448.1" y2="1182.89" stroke="#000" stroke-width="2.4"/>
<line x1="442.6" y1="1119.66" x2="453.6" y2="1119.66" stroke="#000" stroke-width="2.4" stroke-linecap="round"/>
<line x1="442.6" y1="1182.89" x2="453.6" y2="1182.89" stroke="#000" stroke-width="2.4" stroke-linecap="round"/>
<line x1="563.4" y1="1138.4" x2="563.4" y2="1177.04" stroke="#000" stroke-width="2.4"/>
<line x1="557.9" y1="1138.4" x2="568.9" y2="1138.4" stroke="#000" stroke-width="2.4" stroke-linecap="round"/>
<line x1="557.9" y1="1177.04" x2="568.9" y2="1177.04" stroke="#000" stroke-width="2.4" stroke-linecap="round"/>
<line x1="217" y1="1103.27" x2="332.6" y2="1048.94" stroke="#000" stroke-width="2.2"/>
<line x1="332.6" y1="1048.94" x2="448.1" y2="1150.81" stroke="#000" stroke-width="2.2"/>
<line x1="448.1" y1="1150.81" x2="563.4" y2="1157.6" stroke="#000" stroke-width="2.2"/>
<circle cx="217" cy="1103.27" r="10.3" fill="#000"/>
<circle cx="332.6" cy="1048.94" r="10.3" fill="#000"/>
<circle cx="448.1" cy="1150.81" r="10.3" fill="#000"/>
<circle cx="563.4" cy="1157.6" r="10.3" fill="#000"/>
<line x1="332.6" y1="1021.3" x2="332.6" y2="1066.97" stroke="#000" stroke-width="2.4"/>
<line x1="327.1" y1="1021.3" x2="338.1" y2="1021.3" stroke="#000" stroke-width="2.4" stroke-linecap="round"/>
<line x1="327.1" y1="1066.97" x2="338.1" y2="1066.97" stroke="#000" stroke-width="2.4" stroke-linecap="round"/>
<line x1="448.1" y1="1055.26" x2="448.1" y2="1076.81" stroke="#000" stroke-width="2.4"/>
<line x1="442.6" y1="1076.81" x2="453.6" y2="1076.81" stroke="#000" stroke-width="2.4" stroke-linecap="round"/>
<line x1="563.4" y1="1089.69" x2="563.4" y2="1127.86" stroke="#000" stroke-width="2.4"/>
<line x1="557.9" y1="1089.69" x2="568.9" y2="1089.69" stroke="#000" stroke-width="2.4" stroke-linecap="round"/>
<line x1="557.9" y1="1127.86" x2="568.9" y2="1127.86" stroke="#000" stroke-width="2.4" stroke-linecap="round"/>
<line x1="217" y1="1074.7" x2="332.6" y2="1048.23" stroke="#000" stroke-width="2.2"/>
<line x1="332.6" y1="1048.23" x2="448.1" y2="1055.26" stroke="#000" stroke-width="2.2"/>
<line x1="448.1" y1="1055.26" x2="563.4" y2="1106.78" stroke="#000" stroke-width="2.2"/>
<circle cx="217" cy="1074.7" r="9.8" fill="#fff" stroke="#000" stroke-width="1.3"/>
<circle cx="332.6" cy="1048.23" r="9.8" fill="#fff" stroke="#000" stroke-width="1.3"/>
<circle cx="448.1" cy="1055.26" r="9.8" fill="#fff" stroke="#000" stroke-width="1.3"/>
<circle cx="563.4" cy="1106.78" r="9.8" fill="#fff" stroke="#000" stroke-width="1.3"/>
<line x1="217" y1="1033.01" x2="217" y2="1078.21" stroke="#000" stroke-width="2.4"/>
<line x1="211.5" y1="1033.01" x2="222.5" y2="1033.01" stroke="#000" stroke-width="2.4" stroke-linecap="round"/>
<line x1="211.5" y1="1078.21" x2="222.5" y2="1078.21" stroke="#000" stroke-width="2.4" stroke-linecap="round"/>
<line x1="332.6" y1="1016.62" x2="332.6" y2="1059.94" stroke="#000" stroke-width="2.4"/>
<line x1="327.1" y1="1016.62" x2="338.1" y2="1016.62" stroke="#000" stroke-width="2.4" stroke-linecap="round"/>
<line x1="327.1" y1="1059.94" x2="338.1" y2="1059.94" stroke="#000" stroke-width="2.4" stroke-linecap="round"/>
<line x1="448.1" y1="982.19" x2="448.1" y2="1033.01" stroke="#000" stroke-width="2.4"/>
<line x1="442.6" y1="982.19" x2="453.6" y2="982.19" stroke="#000" stroke-width="2.4" stroke-linecap="round"/>
<line x1="442.6" y1="1033.01" x2="453.6" y2="1033.01" stroke="#000" stroke-width="2.4" stroke-linecap="round"/>
<line x1="563.4" y1="1010.76" x2="563.4" y2="1047.53" stroke="#000" stroke-width="2.4"/>
<line x1="557.9" y1="1010.76" x2="568.9" y2="1010.76" stroke="#000" stroke-width="2.4" stroke-linecap="round"/>
<line x1="557.9" y1="1047.53" x2="568.9" y2="1047.53" stroke="#000" stroke-width="2.4" stroke-linecap="round"/>
<line x1="217" y1="1056.14" x2="332.6" y2="1038.34" stroke="#000" stroke-width="2.2" stroke-linecap="round" stroke-dasharray="10.14 6.35" stroke-dashoffset="-0.39"/>
<line x1="332.6" y1="1038.34" x2="448.1" y2="1004.38" stroke="#000" stroke-width="2.2" stroke-linecap="round" stroke-dasharray="10.52 6.47" stroke-dashoffset="-0.37"/>
<line x1="448.1" y1="1004.38" x2="563.4" y2="1032.72" stroke="#000" stroke-width="2.2" stroke-linecap="round" stroke-dasharray="10.36 6.42" stroke-dashoffset="-0.38"/>
<path d="M207.3 1050.41L226.7 1050.41L217 1067.61Z" fill="#000" stroke="#000" stroke-width="1.3" stroke-linejoin="miter"/>
<path d="M322.9 1032.61L342.3 1032.61L332.6 1049.81Z" fill="#000" stroke="#000" stroke-width="1.3" stroke-linejoin="miter"/>
<path d="M438.4 998.65L457.8 998.65L448.1 1015.85Z" fill="#000" stroke="#000" stroke-width="1.3" stroke-linejoin="miter"/>
<path d="M553.7 1026.99L573.1 1026.99L563.4 1044.19Z" fill="#000" stroke="#000" stroke-width="1.3" stroke-linejoin="miter"/>
<line x1="217" y1="1106.78" x2="217" y2="1125.52" stroke="#000" stroke-width="2.4"/>
<line x1="211.5" y1="1125.52" x2="222.5" y2="1125.52" stroke="#000" stroke-width="2.4" stroke-linecap="round"/>
<line x1="332.6" y1="956.9" x2="332.6" y2="996.71" stroke="#000" stroke-width="2.4"/>
<line x1="327.1" y1="956.9" x2="338.1" y2="956.9" stroke="#000" stroke-width="2.4" stroke-linecap="round"/>
<line x1="327.1" y1="996.71" x2="338.1" y2="996.71" stroke="#000" stroke-width="2.4" stroke-linecap="round"/>
<line x1="448.1" y1="1022.94" x2="448.1" y2="1048.23" stroke="#000" stroke-width="2.4"/>
<line x1="442.6" y1="1048.23" x2="453.6" y2="1048.23" stroke="#000" stroke-width="2.4" stroke-linecap="round"/>
<line x1="563.4" y1="1055.26" x2="563.4" y2="1085.7" stroke="#000" stroke-width="2.4"/>
<line x1="557.9" y1="1055.26" x2="568.9" y2="1055.26" stroke="#000" stroke-width="2.4" stroke-linecap="round"/>
<line x1="557.9" y1="1085.7" x2="568.9" y2="1085.7" stroke="#000" stroke-width="2.4" stroke-linecap="round"/>
<line x1="217" y1="1109.65" x2="332.6" y2="976.86" stroke="#000" stroke-width="2.2" stroke-linecap="round" stroke-dasharray="13.98 7.64" stroke-dashoffset="-0.17"/>
<line x1="332.6" y1="976.86" x2="448.1" y2="1025.81" stroke="#000" stroke-width="2.2" stroke-linecap="round" stroke-dasharray="11.05 6.65" stroke-dashoffset="-0.34"/>
<line x1="448.1" y1="1025.81" x2="563.4" y2="1068.43" stroke="#000" stroke-width="2.2" stroke-linecap="round" stroke-dasharray="10.81 6.57" stroke-dashoffset="-0.35"/>
<path d="M207.3 1115.38L226.7 1115.38L217 1098.18Z" fill="#fff" stroke="#000" stroke-width="1.3" stroke-linejoin="miter"/>
<path d="M322.9 982.6L342.3 982.6L332.6 965.4Z" fill="#fff" stroke="#000" stroke-width="1.3" stroke-linejoin="miter"/>
<path d="M438.4 1031.54L457.8 1031.54L448.1 1014.34Z" fill="#fff" stroke="#000" stroke-width="1.3" stroke-linejoin="miter"/>
<path d="M553.7 1074.16L573.1 1074.16L563.4 1056.96Z" fill="#fff" stroke="#000" stroke-width="1.3" stroke-linejoin="miter"/>
<line x1="616.5" y1="999.76" x2="616.5" y2="1106.08" stroke="#000" stroke-width="2.4" stroke-linecap="round" stroke-dasharray="9.8 6.5" stroke-dashoffset="-1.2"/>
<line x1="608.5" y1="999.76" x2="624.5" y2="999.76" stroke="#000" stroke-width="2.4" stroke-linecap="round"/>
<line x1="608.5" y1="1106.08" x2="624.5" y2="1106.08" stroke="#000" stroke-width="2.4" stroke-linecap="round"/>
<path d="M606.8 1060.58L626.2 1060.58L616.5 1043.38Z" fill="#fff" stroke="#000" stroke-width="1.3" stroke-linejoin="miter"/>
</g>
<g>
<line x1="838" y1="1036.52" x2="838" y2="1054.09" stroke="#000" stroke-width="2.4"/>
<line x1="832.5" y1="1036.52" x2="843.5" y2="1036.52" stroke="#000" stroke-width="2.4" stroke-linecap="round"/>
<line x1="953.2" y1="1028.33" x2="953.2" y2="1078.68" stroke="#000" stroke-width="2.4"/>
<line x1="947.7" y1="1028.33" x2="958.7" y2="1028.33" stroke="#000" stroke-width="2.4" stroke-linecap="round"/>
<line x1="947.7" y1="1078.68" x2="958.7" y2="1078.68" stroke="#000" stroke-width="2.4" stroke-linecap="round"/>
<line x1="1068.9" y1="1022.47" x2="1068.9" y2="1065.33" stroke="#000" stroke-width="2.4"/>
<line x1="1063.4" y1="1022.47" x2="1074.4" y2="1022.47" stroke="#000" stroke-width="2.4" stroke-linecap="round"/>
<line x1="1063.4" y1="1065.33" x2="1074.4" y2="1065.33" stroke="#000" stroke-width="2.4" stroke-linecap="round"/>
<line x1="1184.4" y1="1042.38" x2="1184.4" y2="1070.95" stroke="#000" stroke-width="2.4"/>
<line x1="1178.9" y1="1070.95" x2="1189.9" y2="1070.95" stroke="#000" stroke-width="2.4" stroke-linecap="round"/>
<line x1="838" y1="1054.09" x2="953.2" y2="1053.62" stroke="#000" stroke-width="2.2"/>
<line x1="953.2" y1="1053.62" x2="1068.9" y2="1043.55" stroke="#000" stroke-width="2.2"/>
<line x1="1068.9" y1="1043.55" x2="1184.4" y2="1042.38" stroke="#000" stroke-width="2.2"/>
<circle cx="838" cy="1054.09" r="10.3" fill="#000"/>
<circle cx="953.2" cy="1053.62" r="10.3" fill="#000"/>
<circle cx="1068.9" cy="1043.55" r="10.3" fill="#000"/>
<circle cx="1184.4" cy="1042.38" r="10.3" fill="#000"/>
<line x1="838" y1="1074" x2="838" y2="1120.37" stroke="#000" stroke-width="2.4"/>
<line x1="832.5" y1="1074" x2="843.5" y2="1074" stroke="#000" stroke-width="2.4" stroke-linecap="round"/>
<line x1="832.5" y1="1120.37" x2="843.5" y2="1120.37" stroke="#000" stroke-width="2.4" stroke-linecap="round"/>
<line x1="953.2" y1="1023.18" x2="953.2" y2="1066.97" stroke="#000" stroke-width="2.4"/>
<line x1="947.7" y1="1023.18" x2="958.7" y2="1023.18" stroke="#000" stroke-width="2.4" stroke-linecap="round"/>
<line x1="947.7" y1="1066.97" x2="958.7" y2="1066.97" stroke="#000" stroke-width="2.4" stroke-linecap="round"/>
<line x1="1068.9" y1="1075.63" x2="1068.9" y2="1131.84" stroke="#000" stroke-width="2.4"/>
<line x1="1063.4" y1="1075.63" x2="1074.4" y2="1075.63" stroke="#000" stroke-width="2.4" stroke-linecap="round"/>
<line x1="1063.4" y1="1131.84" x2="1074.4" y2="1131.84" stroke="#000" stroke-width="2.4" stroke-linecap="round"/>
<line x1="1184.4" y1="1079.15" x2="1184.4" y2="1137.7" stroke="#000" stroke-width="2.4"/>
<line x1="1178.9" y1="1079.15" x2="1189.9" y2="1079.15" stroke="#000" stroke-width="2.4" stroke-linecap="round"/>
<line x1="1178.9" y1="1137.7" x2="1189.9" y2="1137.7" stroke="#000" stroke-width="2.4" stroke-linecap="round"/>
<line x1="838" y1="1096.24" x2="953.2" y2="1045.42" stroke="#000" stroke-width="2.2"/>
<line x1="953.2" y1="1045.42" x2="1068.9" y2="1103.27" stroke="#000" stroke-width="2.2"/>
<line x1="1068.9" y1="1103.27" x2="1184.4" y2="1107.95" stroke="#000" stroke-width="2.2"/>
<circle cx="838" cy="1096.24" r="9.8" fill="#fff" stroke="#000" stroke-width="1.3"/>
<circle cx="953.2" cy="1045.42" r="9.8" fill="#fff" stroke="#000" stroke-width="1.3"/>
<circle cx="1068.9" cy="1103.27" r="9.8" fill="#fff" stroke="#000" stroke-width="1.3"/>
<circle cx="1184.4" cy="1107.95" r="9.8" fill="#fff" stroke="#000" stroke-width="1.3"/>
<line x1="838" y1="1030.2" x2="838" y2="1061.82" stroke="#000" stroke-width="2.4"/>
<line x1="832.5" y1="1030.2" x2="843.5" y2="1030.2" stroke="#000" stroke-width="2.4" stroke-linecap="round"/>
<line x1="953.2" y1="994.6" x2="953.2" y2="1015.45" stroke="#000" stroke-width="2.4"/>
<line x1="947.7" y1="1015.45" x2="958.7" y2="1015.45" stroke="#000" stroke-width="2.4" stroke-linecap="round"/>
<line x1="1068.9" y1="917.56" x2="1068.9" y2="975.17" stroke="#000" stroke-width="2.4"/>
<line x1="1063.4" y1="917.56" x2="1074.4" y2="917.56" stroke="#000" stroke-width="2.4" stroke-linecap="round"/>
<line x1="1063.4" y1="975.17" x2="1074.4" y2="975.17" stroke="#000" stroke-width="2.4" stroke-linecap="round"/>
<line x1="1184.4" y1="950.58" x2="1184.4" y2="996.01" stroke="#000" stroke-width="2.4"/>
<line x1="1178.9" y1="950.58" x2="1189.9" y2="950.58" stroke="#000" stroke-width="2.4" stroke-linecap="round"/>
<line x1="1178.9" y1="996.01" x2="1189.9" y2="996.01" stroke="#000" stroke-width="2.4" stroke-linecap="round"/>
<line x1="838" y1="1058.95" x2="953.2" y2="991.74" stroke="#000" stroke-width="2.2" stroke-linecap="round" stroke-dasharray="11.92 6.95" stroke-dashoffset="-0.29"/>
<line x1="953.2" y1="991.74" x2="1068.9" y2="945.6" stroke="#000" stroke-width="2.2" stroke-linecap="round" stroke-dasharray="10.93 6.61" stroke-dashoffset="-0.35"/>
<line x1="1068.9" y1="945.6" x2="1184.4" y2="973.24" stroke="#000" stroke-width="2.2" stroke-linecap="round" stroke-dasharray="10.34 6.42" stroke-dashoffset="-0.38"/>
<path d="M828.3 1053.22L847.7 1053.22L838 1070.42Z" fill="#000" stroke="#000" stroke-width="1.3" stroke-linejoin="miter"/>
<path d="M943.5 986L962.9 986L953.2 1003.2Z" fill="#000" stroke="#000" stroke-width="1.3" stroke-linejoin="miter"/>
<path d="M1059.2 939.87L1078.6 939.87L1068.9 957.07Z" fill="#000" stroke="#000" stroke-width="1.3" stroke-linejoin="miter"/>
<path d="M1174.7 967.5L1194.1 967.5L1184.4 984.7Z" fill="#000" stroke="#000" stroke-width="1.3" stroke-linejoin="miter"/>
<line x1="838" y1="1081.02" x2="838" y2="1105.61" stroke="#000" stroke-width="2.4"/>
<line x1="832.5" y1="1105.61" x2="843.5" y2="1105.61" stroke="#000" stroke-width="2.4" stroke-linecap="round"/>
<line x1="953.2" y1="969.08" x2="953.2" y2="1013.11" stroke="#000" stroke-width="2.4"/>
<line x1="947.7" y1="969.08" x2="958.7" y2="969.08" stroke="#000" stroke-width="2.4" stroke-linecap="round"/>
<line x1="947.7" y1="1013.11" x2="958.7" y2="1013.11" stroke="#000" stroke-width="2.4" stroke-linecap="round"/>
<line x1="1184.4" y1="987.81" x2="1184.4" y2="1012.64" stroke="#000" stroke-width="2.4"/>
<line x1="1178.9" y1="987.81" x2="1189.9" y2="987.81" stroke="#000" stroke-width="2.4" stroke-linecap="round"/>
<line x1="838" y1="1083.89" x2="953.2" y2="991.38" stroke="#000" stroke-width="2.2" stroke-linecap="round" stroke-dasharray="13.45 7.46" stroke-dashoffset="-0.2"/>
<line x1="953.2" y1="991.38" x2="1068.9" y2="1013.63" stroke="#000" stroke-width="2.2" stroke-linecap="round" stroke-dasharray="10.22 6.38" stroke-dashoffset="-0.39"/>
<line x1="1068.9" y1="1013.63" x2="1184.4" y2="1015.5" stroke="#000" stroke-width="2.2" stroke-linecap="round" stroke-dasharray="10 6.3" stroke-dashoffset="-0.4"/>
<path d="M828.3 1089.62L847.7 1089.62L838 1072.42Z" fill="#fff" stroke="#000" stroke-width="1.3" stroke-linejoin="miter"/>
<path d="M943.5 997.12L962.9 997.12L953.2 979.92Z" fill="#fff" stroke="#000" stroke-width="1.3" stroke-linejoin="miter"/>
<path d="M1059.2 1019.36L1078.6 1019.36L1068.9 1002.16Z" fill="#fff" stroke="#000" stroke-width="1.3" stroke-linejoin="miter"/>
<path d="M1174.7 1021.24L1194.1 1021.24L1184.4 1004.04Z" fill="#fff" stroke="#000" stroke-width="1.3" stroke-linejoin="miter"/>
<line x1="774.3" y1="1094.37" x2="774.3" y2="1159.01" stroke="#000" stroke-width="2.4"/>
<line x1="766.3" y1="1094.37" x2="782.3" y2="1094.37" stroke="#000" stroke-width="2.4" stroke-linecap="round"/>
<line x1="766.3" y1="1159.01" x2="782.3" y2="1159.01" stroke="#000" stroke-width="2.4" stroke-linecap="round"/>
<circle cx="774.3" cy="1125.52" r="9.8" fill="#fff" stroke="#000" stroke-width="1.3"/>
<line x1="1217.3" y1="974.46" x2="1217.3" y2="1056.43" stroke="#000" stroke-width="2.4" stroke-linecap="round" stroke-dasharray="9.8 6.5" stroke-dashoffset="-1.2"/>
<line x1="1209.3" y1="974.46" x2="1225.3" y2="974.46" stroke="#000" stroke-width="2.4" stroke-linecap="round"/>
<line x1="1209.3" y1="1056.43" x2="1225.3" y2="1056.43" stroke="#000" stroke-width="2.4" stroke-linecap="round"/>
<path d="M1207.6 1027.56L1227 1027.56L1217.3 1010.36Z" fill="#fff" stroke="#000" stroke-width="1.3" stroke-linejoin="miter"/>
<line x1="1244.2" y1="964.39" x2="1244.2" y2="1059.48" stroke="#000" stroke-width="2.4" stroke-linecap="round" stroke-dasharray="15.1 8.5" stroke-dashoffset="-1.2"/>
<line x1="1236.2" y1="964.39" x2="1252.2" y2="964.39" stroke="#000" stroke-width="2.4" stroke-linecap="round"/>
<line x1="1236.2" y1="1059.48" x2="1252.2" y2="1059.48" stroke="#000" stroke-width="2.4" stroke-linecap="round"/>
<path d="M1234.5 1004.74L1253.9 1004.74L1244.2 1021.94Z" fill="#000" stroke="#000" stroke-width="1.3" stroke-linejoin="miter"/>
</g>
<g>
<line x1="332.6" y1="1482.68" x2="332.6" y2="1515.47" stroke="#000" stroke-width="2.4"/>
<line x1="327.1" y1="1482.68" x2="338.1" y2="1482.68" stroke="#000" stroke-width="2.4" stroke-linecap="round"/>
<line x1="327.1" y1="1515.47" x2="338.1" y2="1515.47" stroke="#000" stroke-width="2.4" stroke-linecap="round"/>
<line x1="448.1" y1="1552.94" x2="448.1" y2="1571.67" stroke="#000" stroke-width="2.4"/>
<line x1="442.6" y1="1552.94" x2="453.6" y2="1552.94" stroke="#000" stroke-width="2.4" stroke-linecap="round"/>
<line x1="563.4" y1="1522.49" x2="563.4" y2="1564.65" stroke="#000" stroke-width="2.4"/>
<line x1="557.9" y1="1522.49" x2="568.9" y2="1522.49" stroke="#000" stroke-width="2.4" stroke-linecap="round"/>
<line x1="557.9" y1="1564.65" x2="568.9" y2="1564.65" stroke="#000" stroke-width="2.4" stroke-linecap="round"/>
<line x1="217" y1="1554.11" x2="332.6" y2="1499.07" stroke="#000" stroke-width="2.2"/>
<line x1="332.6" y1="1499.07" x2="448.1" y2="1571.67" stroke="#000" stroke-width="2.2"/>
<line x1="448.1" y1="1571.67" x2="563.4" y2="1546.61" stroke="#000" stroke-width="2.2"/>
<circle cx="217" cy="1554.11" r="10.3" fill="#000"/>
<circle cx="332.6" cy="1499.07" r="10.3" fill="#000"/>
<circle cx="448.1" cy="1571.67" r="10.3" fill="#000"/>
<circle cx="563.4" cy="1546.61" r="10.3" fill="#000"/>
<line x1="217" y1="1398.37" x2="217" y2="1414.76" stroke="#000" stroke-width="2.4"/>
<line x1="211.5" y1="1398.37" x2="222.5" y2="1398.37" stroke="#000" stroke-width="2.4" stroke-linecap="round"/>
<line x1="332.6" y1="1334.44" x2="332.6" y2="1383.62" stroke="#000" stroke-width="2.4"/>
<line x1="327.1" y1="1334.44" x2="338.1" y2="1334.44" stroke="#000" stroke-width="2.4" stroke-linecap="round"/>
<line x1="327.1" y1="1383.62" x2="338.1" y2="1383.62" stroke="#000" stroke-width="2.4" stroke-linecap="round"/>
<line x1="448.1" y1="1408.44" x2="448.1" y2="1469.33" stroke="#000" stroke-width="2.4"/>
<line x1="442.6" y1="1408.44" x2="453.6" y2="1408.44" stroke="#000" stroke-width="2.4" stroke-linecap="round"/>
<line x1="442.6" y1="1469.33" x2="453.6" y2="1469.33" stroke="#000" stroke-width="2.4" stroke-linecap="round"/>
<line x1="563.4" y1="1442.87" x2="563.4" y2="1494.86" stroke="#000" stroke-width="2.4"/>
<line x1="557.9" y1="1442.87" x2="568.9" y2="1442.87" stroke="#000" stroke-width="2.4" stroke-linecap="round"/>
<line x1="557.9" y1="1494.86" x2="568.9" y2="1494.86" stroke="#000" stroke-width="2.4" stroke-linecap="round"/>
<line x1="217" y1="1414.76" x2="332.6" y2="1359.03" stroke="#000" stroke-width="2.2"/>
<line x1="332.6" y1="1359.03" x2="448.1" y2="1446.38" stroke="#000" stroke-width="2.2"/>
<line x1="448.1" y1="1446.38" x2="563.4" y2="1468.63" stroke="#000" stroke-width="2.2"/>
<circle cx="217" cy="1414.76" r="9.8" fill="#fff" stroke="#000" stroke-width="1.3"/>
<circle cx="332.6" cy="1359.03" r="9.8" fill="#fff" stroke="#000" stroke-width="1.3"/>
<circle cx="448.1" cy="1446.38" r="9.8" fill="#fff" stroke="#000" stroke-width="1.3"/>
<circle cx="563.4" cy="1468.63" r="9.8" fill="#fff" stroke="#000" stroke-width="1.3"/>
<line x1="217" y1="1513.83" x2="217" y2="1538.89" stroke="#000" stroke-width="2.4"/>
<line x1="211.5" y1="1513.83" x2="222.5" y2="1513.83" stroke="#000" stroke-width="2.4" stroke-linecap="round"/>
<line x1="211.5" y1="1538.89" x2="222.5" y2="1538.89" stroke="#000" stroke-width="2.4" stroke-linecap="round"/>
<line x1="332.6" y1="1548.96" x2="332.6" y2="1568.16" stroke="#000" stroke-width="2.4"/>
<line x1="327.1" y1="1548.96" x2="338.1" y2="1548.96" stroke="#000" stroke-width="2.4" stroke-linecap="round"/>
<line x1="327.1" y1="1568.16" x2="338.1" y2="1568.16" stroke="#000" stroke-width="2.4" stroke-linecap="round"/>
<line x1="448.1" y1="1580.57" x2="448.1" y2="1589.24" stroke="#000" stroke-width="2.4"/>
<line x1="442.6" y1="1589.24" x2="453.6" y2="1589.24" stroke="#000" stroke-width="2.4" stroke-linecap="round"/>
<line x1="563.4" y1="1558.79" x2="563.4" y2="1585.72" stroke="#000" stroke-width="2.4"/>
<line x1="557.9" y1="1558.79" x2="568.9" y2="1558.79" stroke="#000" stroke-width="2.4" stroke-linecap="round"/>
<line x1="557.9" y1="1585.72" x2="568.9" y2="1585.72" stroke="#000" stroke-width="2.4" stroke-linecap="round"/>
<line x1="217" y1="1526.65" x2="332.6" y2="1557.1" stroke="#000" stroke-width="2.2" stroke-linecap="round" stroke-dasharray="10.42 6.44" stroke-dashoffset="-0.38"/>
<line x1="332.6" y1="1557.1" x2="448.1" y2="1577.7" stroke="#000" stroke-width="2.2" stroke-linecap="round" stroke-dasharray="10.19 6.36" stroke-dashoffset="-0.39"/>
<line x1="448.1" y1="1577.7" x2="563.4" y2="1574.89" stroke="#000" stroke-width="2.2" stroke-linecap="round" stroke-dasharray="10 6.3" stroke-dashoffset="-0.4"/>
<path d="M207.3 1520.92L226.7 1520.92L217 1538.12Z" fill="#000" stroke="#000" stroke-width="1.3" stroke-linejoin="miter"/>
<path d="M322.9 1551.36L342.3 1551.36L332.6 1568.56Z" fill="#000" stroke="#000" stroke-width="1.3" stroke-linejoin="miter"/>
<path d="M438.4 1571.97L457.8 1571.97L448.1 1589.17Z" fill="#000" stroke="#000" stroke-width="1.3" stroke-linejoin="miter"/>
<path d="M553.7 1569.16L573.1 1569.16L563.4 1586.36Z" fill="#000" stroke="#000" stroke-width="1.3" stroke-linejoin="miter"/>
<line x1="217" y1="1413.12" x2="217" y2="1444.04" stroke="#000" stroke-width="2.4"/>
<line x1="211.5" y1="1413.12" x2="222.5" y2="1413.12" stroke="#000" stroke-width="2.4" stroke-linecap="round"/>
<line x1="211.5" y1="1444.04" x2="222.5" y2="1444.04" stroke="#000" stroke-width="2.4" stroke-linecap="round"/>
<line x1="332.6" y1="1444.04" x2="332.6" y2="1470.97" stroke="#000" stroke-width="2.4"/>
<line x1="327.1" y1="1444.04" x2="338.1" y2="1444.04" stroke="#000" stroke-width="2.4" stroke-linecap="round"/>
<line x1="327.1" y1="1470.97" x2="338.1" y2="1470.97" stroke="#000" stroke-width="2.4" stroke-linecap="round"/>
<line x1="448.1" y1="1469.33" x2="448.1" y2="1511.48" stroke="#000" stroke-width="2.4"/>
<line x1="442.6" y1="1469.33" x2="453.6" y2="1469.33" stroke="#000" stroke-width="2.4" stroke-linecap="round"/>
<line x1="442.6" y1="1511.48" x2="453.6" y2="1511.48" stroke="#000" stroke-width="2.4" stroke-linecap="round"/>
<line x1="563.4" y1="1504.46" x2="563.4" y2="1529.28" stroke="#000" stroke-width="2.4"/>
<line x1="557.9" y1="1504.46" x2="568.9" y2="1504.46" stroke="#000" stroke-width="2.4" stroke-linecap="round"/>
<line x1="217" y1="1428.17" x2="332.6" y2="1458.15" stroke="#000" stroke-width="2.2" stroke-linecap="round" stroke-dasharray="10.4 6.44" stroke-dashoffset="-0.38"/>
<line x1="332.6" y1="1458.15" x2="448.1" y2="1490.93" stroke="#000" stroke-width="2.2" stroke-linecap="round" stroke-dasharray="10.48 6.46" stroke-dashoffset="-0.37"/>
<line x1="448.1" y1="1490.93" x2="563.4" y2="1532.15" stroke="#000" stroke-width="2.2" stroke-linecap="round" stroke-dasharray="10.76 6.55" stroke-dashoffset="-0.36"/>
<path d="M207.3 1433.9L226.7 1433.9L217 1416.7Z" fill="#fff" stroke="#000" stroke-width="1.3" stroke-linejoin="miter"/>
<path d="M322.9 1463.88L342.3 1463.88L332.6 1446.68Z" fill="#fff" stroke="#000" stroke-width="1.3" stroke-linejoin="miter"/>
<path d="M438.4 1496.67L457.8 1496.67L448.1 1479.47Z" fill="#fff" stroke="#000" stroke-width="1.3" stroke-linejoin="miter"/>
<path d="M553.7 1537.88L573.1 1537.88L563.4 1520.68Z" fill="#fff" stroke="#000" stroke-width="1.3" stroke-linejoin="miter"/>
<line x1="129.3" y1="1443.57" x2="129.3" y2="1510.78" stroke="#000" stroke-width="2.4"/>
<line x1="121.3" y1="1443.57" x2="137.3" y2="1443.57" stroke="#000" stroke-width="2.4" stroke-linecap="round"/>
<line x1="121.3" y1="1510.78" x2="137.3" y2="1510.78" stroke="#000" stroke-width="2.4" stroke-linecap="round"/>
<circle cx="129.3" cy="1475.65" r="10.3" fill="#000"/>
<line x1="170.3" y1="1431.63" x2="170.3" y2="1510.08" stroke="#000" stroke-width="2.4"/>
<line x1="162.3" y1="1431.63" x2="178.3" y2="1431.63" stroke="#000" stroke-width="2.4" stroke-linecap="round"/>
<line x1="162.3" y1="1510.08" x2="178.3" y2="1510.08" stroke="#000" stroke-width="2.4" stroke-linecap="round"/>
<circle cx="170.3" cy="1473.31" r="9.8" fill="#fff" stroke="#000" stroke-width="1.3"/>
<line x1="619.5" y1="1451.06" x2="619.5" y2="1534.9" stroke="#000" stroke-width="2.4" stroke-linecap="round" stroke-dasharray="9.8 6.5" stroke-dashoffset="-1.2"/>
<line x1="611.5" y1="1451.06" x2="627.5" y2="1451.06" stroke="#000" stroke-width="2.4" stroke-linecap="round"/>
<line x1="611.5" y1="1534.9" x2="627.5" y2="1534.9" stroke="#000" stroke-width="2.4" stroke-linecap="round"/>
<path d="M609.8 1499.48L629.2 1499.48L619.5 1482.28Z" fill="#fff" stroke="#000" stroke-width="1.3" stroke-linejoin="miter"/>
</g>
<g>
<line x1="838" y1="1532.56" x2="838" y2="1542.4" stroke="#000" stroke-width="2.4"/>
<line x1="832.5" y1="1532.56" x2="843.5" y2="1532.56" stroke="#000" stroke-width="2.4" stroke-linecap="round"/>
<line x1="953.2" y1="1534.67" x2="953.2" y2="1548.25" stroke="#000" stroke-width="2.4"/>
<line x1="947.7" y1="1534.67" x2="958.7" y2="1534.67" stroke="#000" stroke-width="2.4" stroke-linecap="round"/>
<line x1="1184.4" y1="1543.1" x2="1184.4" y2="1556.45" stroke="#000" stroke-width="2.4"/>
<line x1="1178.9" y1="1543.1" x2="1189.9" y2="1543.1" stroke="#000" stroke-width="2.4" stroke-linecap="round"/>
<line x1="838" y1="1542.4" x2="953.2" y2="1548.25" stroke="#000" stroke-width="2.2"/>
<line x1="953.2" y1="1548.25" x2="1068.9" y2="1566.99" stroke="#000" stroke-width="2.2"/>
<line x1="1068.9" y1="1566.99" x2="1184.4" y2="1556.45" stroke="#000" stroke-width="2.2"/>
<circle cx="838" cy="1542.4" r="10.3" fill="#000"/>
<circle cx="953.2" cy="1548.25" r="10.3" fill="#000"/>
<circle cx="1068.9" cy="1566.99" r="10.3" fill="#000"/>
<circle cx="1184.4" cy="1556.45" r="10.3" fill="#000"/>
<line x1="838" y1="1437.01" x2="838" y2="1476.82" stroke="#000" stroke-width="2.4"/>
<line x1="832.5" y1="1437.01" x2="843.5" y2="1437.01" stroke="#000" stroke-width="2.4" stroke-linecap="round"/>
<line x1="832.5" y1="1476.82" x2="843.5" y2="1476.82" stroke="#000" stroke-width="2.4" stroke-linecap="round"/>
<line x1="953.2" y1="1374.48" x2="953.2" y2="1428.35" stroke="#000" stroke-width="2.4"/>
<line x1="947.7" y1="1374.48" x2="958.7" y2="1374.48" stroke="#000" stroke-width="2.4" stroke-linecap="round"/>
<line x1="947.7" y1="1428.35" x2="958.7" y2="1428.35" stroke="#000" stroke-width="2.4" stroke-linecap="round"/>
<line x1="1068.9" y1="1434.2" x2="1068.9" y2="1477.06" stroke="#000" stroke-width="2.4"/>
<line x1="1063.4" y1="1434.2" x2="1074.4" y2="1434.2" stroke="#000" stroke-width="2.4" stroke-linecap="round"/>
<line x1="1063.4" y1="1477.06" x2="1074.4" y2="1477.06" stroke="#000" stroke-width="2.4" stroke-linecap="round"/>
<line x1="1184.4" y1="1455.28" x2="1184.4" y2="1492.75" stroke="#000" stroke-width="2.4"/>
<line x1="1178.9" y1="1455.28" x2="1189.9" y2="1455.28" stroke="#000" stroke-width="2.4" stroke-linecap="round"/>
<line x1="1178.9" y1="1492.75" x2="1189.9" y2="1492.75" stroke="#000" stroke-width="2.4" stroke-linecap="round"/>
<line x1="838" y1="1456.45" x2="953.2" y2="1401.41" stroke="#000" stroke-width="2.2"/>
<line x1="953.2" y1="1401.41" x2="1068.9" y2="1455.75" stroke="#000" stroke-width="2.2"/>
<line x1="1068.9" y1="1455.75" x2="1184.4" y2="1474.48" stroke="#000" stroke-width="2.2"/>
<circle cx="838" cy="1456.45" r="9.8" fill="#fff" stroke="#000" stroke-width="1.3"/>
<circle cx="953.2" cy="1401.41" r="9.8" fill="#fff" stroke="#000" stroke-width="1.3"/>
<circle cx="1068.9" cy="1455.75" r="9.8" fill="#fff" stroke="#000" stroke-width="1.3"/>
<circle cx="1184.4" cy="1474.48" r="9.8" fill="#fff" stroke="#000" stroke-width="1.3"/>
<line x1="838" y1="1561.6" x2="838" y2="1569.33" stroke="#000" stroke-width="2.4"/>
<line x1="832.5" y1="1569.33" x2="843.5" y2="1569.33" stroke="#000" stroke-width="2.4" stroke-linecap="round"/>
<line x1="1068.9" y1="1574.72" x2="1068.9" y2="1584.08" stroke="#000" stroke-width="2.4"/>
<line x1="1063.4" y1="1584.08" x2="1074.4" y2="1584.08" stroke="#000" stroke-width="2.4" stroke-linecap="round"/>
<line x1="1184.4" y1="1575.42" x2="1184.4" y2="1586.19" stroke="#000" stroke-width="2.4"/>
<line x1="1178.9" y1="1586.19" x2="1189.9" y2="1586.19" stroke="#000" stroke-width="2.4" stroke-linecap="round"/>
<line x1="838" y1="1558.74" x2="953.2" y2="1564.82" stroke="#000" stroke-width="2.2" stroke-linecap="round" stroke-dasharray="10.02 6.31" stroke-dashoffset="-0.4"/>
<line x1="953.2" y1="1564.82" x2="1068.9" y2="1571.85" stroke="#000" stroke-width="2.2" stroke-linecap="round" stroke-dasharray="10.02 6.31" stroke-dashoffset="-0.4"/>
<line x1="1068.9" y1="1571.85" x2="1184.4" y2="1572.55" stroke="#000" stroke-width="2.2" stroke-linecap="round" stroke-dasharray="10 6.3" stroke-dashoffset="-0.4"/>
<path d="M828.3 1553L847.7 1553L838 1570.2Z" fill="#000" stroke="#000" stroke-width="1.3" stroke-linejoin="miter"/>
<path d="M943.5 1559.09L962.9 1559.09L953.2 1576.29Z" fill="#000" stroke="#000" stroke-width="1.3" stroke-linejoin="miter"/>
<path d="M1059.2 1566.12L1078.6 1566.12L1068.9 1583.32Z" fill="#000" stroke="#000" stroke-width="1.3" stroke-linejoin="miter"/>
<path d="M1174.7 1566.82L1194.1 1566.82L1184.4 1584.02Z" fill="#000" stroke="#000" stroke-width="1.3" stroke-linejoin="miter"/>
<line x1="838" y1="1402.35" x2="838" y2="1449.89" stroke="#000" stroke-width="2.4"/>
<line x1="832.5" y1="1402.35" x2="843.5" y2="1402.35" stroke="#000" stroke-width="2.4" stroke-linecap="round"/>
<line x1="832.5" y1="1449.89" x2="843.5" y2="1449.89" stroke="#000" stroke-width="2.4" stroke-linecap="round"/>
<line x1="953.2" y1="1444.51" x2="953.2" y2="1475.65" stroke="#000" stroke-width="2.4"/>
<line x1="947.7" y1="1444.51" x2="958.7" y2="1444.51" stroke="#000" stroke-width="2.4" stroke-linecap="round"/>
<line x1="947.7" y1="1475.65" x2="958.7" y2="1475.65" stroke="#000" stroke-width="2.4" stroke-linecap="round"/>
<line x1="1068.9" y1="1465.82" x2="1068.9" y2="1504.93" stroke="#000" stroke-width="2.4"/>
<line x1="1063.4" y1="1465.82" x2="1074.4" y2="1465.82" stroke="#000" stroke-width="2.4" stroke-linecap="round"/>
<line x1="1063.4" y1="1504.93" x2="1074.4" y2="1504.93" stroke="#000" stroke-width="2.4" stroke-linecap="round"/>
<line x1="1184.4" y1="1457.62" x2="1184.4" y2="1486.19" stroke="#000" stroke-width="2.4"/>
<line x1="1178.9" y1="1457.62" x2="1189.9" y2="1457.62" stroke="#000" stroke-width="2.4" stroke-linecap="round"/>
<line x1="1178.9" y1="1486.19" x2="1189.9" y2="1486.19" stroke="#000" stroke-width="2.4" stroke-linecap="round"/>
<line x1="838" y1="1426.76" x2="953.2" y2="1460.02" stroke="#000" stroke-width="2.2" stroke-linecap="round" stroke-dasharray="10.5 6.47" stroke-dashoffset="-0.37"/>
<line x1="953.2" y1="1460.02" x2="1068.9" y2="1486.01" stroke="#000" stroke-width="2.2" stroke-linecap="round" stroke-dasharray="10.3 6.4" stroke-dashoffset="-0.38"/>
<line x1="1068.9" y1="1486.01" x2="1184.4" y2="1470.32" stroke="#000" stroke-width="2.2" stroke-linecap="round" stroke-dasharray="10.11 6.34" stroke-dashoffset="-0.39"/>
<path d="M828.3 1432.5L847.7 1432.5L838 1415.3Z" fill="#fff" stroke="#000" stroke-width="1.3" stroke-linejoin="miter"/>
<path d="M943.5 1465.75L962.9 1465.75L953.2 1448.55Z" fill="#fff" stroke="#000" stroke-width="1.3" stroke-linejoin="miter"/>
<path d="M1059.2 1491.75L1078.6 1491.75L1068.9 1474.55Z" fill="#fff" stroke="#000" stroke-width="1.3" stroke-linejoin="miter"/>
<path d="M1174.7 1476.06L1194.1 1476.06L1184.4 1458.86Z" fill="#fff" stroke="#000" stroke-width="1.3" stroke-linejoin="miter"/>
<line x1="778.5" y1="1426" x2="778.5" y2="1490.88" stroke="#000" stroke-width="2.4"/>
<line x1="770.5" y1="1426" x2="786.5" y2="1426" stroke="#000" stroke-width="2.4" stroke-linecap="round"/>
<line x1="770.5" y1="1490.88" x2="786.5" y2="1490.88" stroke="#000" stroke-width="2.4" stroke-linecap="round"/>
<circle cx="778.5" cy="1457.39" r="9.8" fill="#fff" stroke="#000" stroke-width="1.3"/>
</g>
<rect x="101.5" y="44.3" width="578.2" height="403.5" fill="none" stroke="#1e1e1e" stroke-width="1.25"/>
<text class="tk" x="90.0" y="454.8" text-anchor="end">0</text>
<line x1="101.5" y1="346.93" x2="108.3" y2="346.93" stroke="#1e1e1e" stroke-width="1.25"/>
<line x1="672.9" y1="346.93" x2="679.7" y2="346.93" stroke="#1e1e1e" stroke-width="1.25"/>
<text class="tk" x="90.0" y="353.93" text-anchor="end">10</text>
<line x1="101.5" y1="246.05" x2="108.3" y2="246.05" stroke="#1e1e1e" stroke-width="1.25"/>
<line x1="672.9" y1="246.05" x2="679.7" y2="246.05" stroke="#1e1e1e" stroke-width="1.25"/>
<text class="tk" x="90.0" y="253.05" text-anchor="end">20</text>
<line x1="101.5" y1="145.18" x2="108.3" y2="145.18" stroke="#1e1e1e" stroke-width="1.25"/>
<line x1="672.9" y1="145.18" x2="679.7" y2="145.18" stroke="#1e1e1e" stroke-width="1.25"/>
<text class="tk" x="90.0" y="152.18" text-anchor="end">30</text>
<text class="tk" x="90.0" y="51.3" text-anchor="end">40</text>
<rect x="101.5" y="447.8" width="578.2" height="403.8" fill="none" stroke="#1e1e1e" stroke-width="1.25"/>
<text class="tk" x="90.0" y="858.6" text-anchor="end">0</text>
<line x1="101.5" y1="736.23" x2="108.3" y2="736.23" stroke="#1e1e1e" stroke-width="1.25"/>
<line x1="672.9" y1="736.23" x2="679.7" y2="736.23" stroke="#1e1e1e" stroke-width="1.25"/>
<text class="tk" x="90.0" y="743.23" text-anchor="end">100</text>
<line x1="101.5" y1="620.86" x2="108.3" y2="620.86" stroke="#1e1e1e" stroke-width="1.25"/>
<line x1="672.9" y1="620.86" x2="679.7" y2="620.86" stroke="#1e1e1e" stroke-width="1.25"/>
<text class="tk" x="90.0" y="627.86" text-anchor="end">200</text>
<line x1="101.5" y1="505.49" x2="108.3" y2="505.49" stroke="#1e1e1e" stroke-width="1.25"/>
<line x1="672.9" y1="505.49" x2="679.7" y2="505.49" stroke="#1e1e1e" stroke-width="1.25"/>
<text class="tk" x="90.0" y="512.49" text-anchor="end">300</text>
<rect x="101.5" y="851.6" width="578.2" height="403.6" fill="none" stroke="#1e1e1e" stroke-width="1.25"/>
<text class="tk" x="90.0" y="1262.2" text-anchor="end">0</text>
<line x1="101.5" y1="1165.51" x2="108.3" y2="1165.51" stroke="#1e1e1e" stroke-width="1.25"/>
<line x1="672.9" y1="1165.51" x2="679.7" y2="1165.51" stroke="#1e1e1e" stroke-width="1.25"/>
<text class="tk" x="90.0" y="1172.51" text-anchor="end">2</text>
<line x1="101.5" y1="1075.82" x2="108.3" y2="1075.82" stroke="#1e1e1e" stroke-width="1.25"/>
<line x1="672.9" y1="1075.82" x2="679.7" y2="1075.82" stroke="#1e1e1e" stroke-width="1.25"/>
<text class="tk" x="90.0" y="1082.82" text-anchor="end">4</text>
<line x1="101.5" y1="986.13" x2="108.3" y2="986.13" stroke="#1e1e1e" stroke-width="1.25"/>
<line x1="672.9" y1="986.13" x2="679.7" y2="986.13" stroke="#1e1e1e" stroke-width="1.25"/>
<text class="tk" x="90.0" y="993.13" text-anchor="end">6</text>
<line x1="101.5" y1="896.44" x2="108.3" y2="896.44" stroke="#1e1e1e" stroke-width="1.25"/>
<line x1="672.9" y1="896.44" x2="679.7" y2="896.44" stroke="#1e1e1e" stroke-width="1.25"/>
<text class="tk" x="90.0" y="903.44" text-anchor="end">8</text>
<rect x="101.5" y="1255.2" width="578.2" height="403.5" fill="none" stroke="#1e1e1e" stroke-width="1.25"/>
<text class="tk" x="90.0" y="1665.7" text-anchor="end">0</text>
<line x1="101.5" y1="1583.98" x2="108.3" y2="1583.98" stroke="#1e1e1e" stroke-width="1.25"/>
<line x1="672.9" y1="1583.98" x2="679.7" y2="1583.98" stroke="#1e1e1e" stroke-width="1.25"/>
<text class="tk" x="90.0" y="1590.98" text-anchor="end">100</text>
<line x1="101.5" y1="1509.26" x2="108.3" y2="1509.26" stroke="#1e1e1e" stroke-width="1.25"/>
<line x1="672.9" y1="1509.26" x2="679.7" y2="1509.26" stroke="#1e1e1e" stroke-width="1.25"/>
<text class="tk" x="90.0" y="1516.26" text-anchor="end">200</text>
<line x1="101.5" y1="1434.53" x2="108.3" y2="1434.53" stroke="#1e1e1e" stroke-width="1.25"/>
<line x1="672.9" y1="1434.53" x2="679.7" y2="1434.53" stroke="#1e1e1e" stroke-width="1.25"/>
<text class="tk" x="90.0" y="1441.53" text-anchor="end">300</text>
<line x1="101.5" y1="1359.81" x2="108.3" y2="1359.81" stroke="#1e1e1e" stroke-width="1.25"/>
<line x1="672.9" y1="1359.81" x2="679.7" y2="1359.81" stroke="#1e1e1e" stroke-width="1.25"/>
<text class="tk" x="90.0" y="1366.81" text-anchor="end">400</text>
<line x1="101.5" y1="1285.09" x2="108.3" y2="1285.09" stroke="#1e1e1e" stroke-width="1.25"/>
<line x1="672.9" y1="1285.09" x2="679.7" y2="1285.09" stroke="#1e1e1e" stroke-width="1.25"/>
<text class="tk" x="90.0" y="1292.09" text-anchor="end">500</text>
<line x1="217" y1="1658.7" x2="217" y2="1664.9" stroke="#1e1e1e" stroke-width="1.25"/>
<text class="tk" x="217" y="1696.2" text-anchor="middle">pre</text>
<line x1="332.6" y1="1658.7" x2="332.6" y2="1664.9" stroke="#1e1e1e" stroke-width="1.25"/>
<text class="tk" x="332.6" y="1696.2" text-anchor="middle">aft 0</text>
<line x1="448.1" y1="1658.7" x2="448.1" y2="1664.9" stroke="#1e1e1e" stroke-width="1.25"/>
<text class="tk" x="448.1" y="1696.2" text-anchor="middle">aft 2</text>
<line x1="563.4" y1="1658.7" x2="563.4" y2="1664.9" stroke="#1e1e1e" stroke-width="1.25"/>
<text class="tk" x="563.4" y="1696.2" text-anchor="middle">aft 4</text>
<rect x="722.4" y="45.2" width="577.9" height="402.6" fill="none" stroke="#1e1e1e" stroke-width="1.25"/>
<text class="tk" x="1311" y="454.8">0</text>
<line x1="722.4" y1="347.15" x2="729.2" y2="347.15" stroke="#1e1e1e" stroke-width="1.25"/>
<line x1="1293.5" y1="347.15" x2="1300.3" y2="347.15" stroke="#1e1e1e" stroke-width="1.25"/>
<text class="tk" x="1311" y="354.15">10</text>
<line x1="722.4" y1="246.5" x2="729.2" y2="246.5" stroke="#1e1e1e" stroke-width="1.25"/>
<line x1="1293.5" y1="246.5" x2="1300.3" y2="246.5" stroke="#1e1e1e" stroke-width="1.25"/>
<text class="tk" x="1311" y="253.5">20</text>
<line x1="722.4" y1="145.85" x2="729.2" y2="145.85" stroke="#1e1e1e" stroke-width="1.25"/>
<line x1="1293.5" y1="145.85" x2="1300.3" y2="145.85" stroke="#1e1e1e" stroke-width="1.25"/>
<text class="tk" x="1311" y="152.85">30</text>
<text class="tk" x="1311" y="52.2">40</text>
<rect x="722.4" y="447.8" width="577.9" height="403.8" fill="none" stroke="#1e1e1e" stroke-width="1.25"/>
<text class="tk" x="1311" y="858.6">0</text>
<line x1="722.4" y1="736.23" x2="729.2" y2="736.23" stroke="#1e1e1e" stroke-width="1.25"/>
<line x1="1293.5" y1="736.23" x2="1300.3" y2="736.23" stroke="#1e1e1e" stroke-width="1.25"/>
<text class="tk" x="1311" y="743.23">100</text>
<line x1="722.4" y1="620.86" x2="729.2" y2="620.86" stroke="#1e1e1e" stroke-width="1.25"/>
<line x1="1293.5" y1="620.86" x2="1300.3" y2="620.86" stroke="#1e1e1e" stroke-width="1.25"/>
<text class="tk" x="1311" y="627.86">200</text>
<line x1="722.4" y1="505.49" x2="729.2" y2="505.49" stroke="#1e1e1e" stroke-width="1.25"/>
<line x1="1293.5" y1="505.49" x2="1300.3" y2="505.49" stroke="#1e1e1e" stroke-width="1.25"/>
<text class="tk" x="1311" y="512.49">300</text>
<rect x="722.4" y="851.6" width="577.9" height="403.6" fill="none" stroke="#1e1e1e" stroke-width="1.25"/>
<text class="tk" x="1311" y="1262.2">0</text>
<line x1="722.4" y1="1165.51" x2="729.2" y2="1165.51" stroke="#1e1e1e" stroke-width="1.25"/>
<line x1="1293.5" y1="1165.51" x2="1300.3" y2="1165.51" stroke="#1e1e1e" stroke-width="1.25"/>
<text class="tk" x="1311" y="1172.51">2</text>
<line x1="722.4" y1="1075.82" x2="729.2" y2="1075.82" stroke="#1e1e1e" stroke-width="1.25"/>
<line x1="1293.5" y1="1075.82" x2="1300.3" y2="1075.82" stroke="#1e1e1e" stroke-width="1.25"/>
<text class="tk" x="1311" y="1082.82">4</text>
<line x1="722.4" y1="986.13" x2="729.2" y2="986.13" stroke="#1e1e1e" stroke-width="1.25"/>
<line x1="1293.5" y1="986.13" x2="1300.3" y2="986.13" stroke="#1e1e1e" stroke-width="1.25"/>
<text class="tk" x="1311" y="993.13">6</text>
<line x1="722.4" y1="896.44" x2="729.2" y2="896.44" stroke="#1e1e1e" stroke-width="1.25"/>
<line x1="1293.5" y1="896.44" x2="1300.3" y2="896.44" stroke="#1e1e1e" stroke-width="1.25"/>
<text class="tk" x="1311" y="903.44">8</text>
<rect x="722.4" y="1255.2" width="577.9" height="403.5" fill="none" stroke="#1e1e1e" stroke-width="1.25"/>
<text class="tk" x="1311" y="1665.7">0</text>
<line x1="722.4" y1="1583.98" x2="729.2" y2="1583.98" stroke="#1e1e1e" stroke-width="1.25"/>
<line x1="1293.5" y1="1583.98" x2="1300.3" y2="1583.98" stroke="#1e1e1e" stroke-width="1.25"/>
<text class="tk" x="1311" y="1590.98">100</text>
<line x1="722.4" y1="1509.26" x2="729.2" y2="1509.26" stroke="#1e1e1e" stroke-width="1.25"/>
<line x1="1293.5" y1="1509.26" x2="1300.3" y2="1509.26" stroke="#1e1e1e" stroke-width="1.25"/>
<text class="tk" x="1311" y="1516.26">200</text>
<line x1="722.4" y1="1434.53" x2="729.2" y2="1434.53" stroke="#1e1e1e" stroke-width="1.25"/>
<line x1="1293.5" y1="1434.53" x2="1300.3" y2="1434.53" stroke="#1e1e1e" stroke-width="1.25"/>
<text class="tk" x="1311" y="1441.53">300</text>
<line x1="722.4" y1="1359.81" x2="729.2" y2="1359.81" stroke="#1e1e1e" stroke-width="1.25"/>
<line x1="1293.5" y1="1359.81" x2="1300.3" y2="1359.81" stroke="#1e1e1e" stroke-width="1.25"/>
<text class="tk" x="1311" y="1366.81">400</text>
<line x1="722.4" y1="1285.09" x2="729.2" y2="1285.09" stroke="#1e1e1e" stroke-width="1.25"/>
<line x1="1293.5" y1="1285.09" x2="1300.3" y2="1285.09" stroke="#1e1e1e" stroke-width="1.25"/>
<text class="tk" x="1311" y="1292.09">500</text>
<line x1="838" y1="1658.7" x2="838" y2="1664.9" stroke="#1e1e1e" stroke-width="1.25"/>
<text class="tk" x="838" y="1696.2" text-anchor="middle">pre</text>
<line x1="953.2" y1="1658.7" x2="953.2" y2="1664.9" stroke="#1e1e1e" stroke-width="1.25"/>
<text class="tk" x="953.2" y="1696.2" text-anchor="middle">aft 0</text>
<line x1="1068.9" y1="1658.7" x2="1068.9" y2="1664.9" stroke="#1e1e1e" stroke-width="1.25"/>
<text class="tk" x="1068.9" y="1696.2" text-anchor="middle">aft 2</text>
<line x1="1184.4" y1="1658.7" x2="1184.4" y2="1664.9" stroke="#1e1e1e" stroke-width="1.25"/>
<text class="tk" x="1184.4" y="1696.2" text-anchor="middle">aft 4</text>
<text class="pl" transform="translate(143.6 103.5) scale(1 0.95)">(</text>
<text class="pl" x="158.92" y="103.5">a</text>
<text class="pl" transform="translate(181.92 103.5) scale(1 0.95)">)</text>
<text class="pl" transform="translate(751.5 113) scale(1 0.95)">(</text>
<text class="pl" x="766.82" y="113">b</text>
<text class="pl" transform="translate(791.4 113) scale(1 0.95)">)</text>
<text class="pl" transform="translate(143.4 515.5) scale(1 0.95)">(</text>
<text class="pl" x="158.72" y="515.5">c</text>
<text class="pl" transform="translate(179.13 515.5) scale(1 0.95)">)</text>
<text class="pl" transform="translate(753.4 498.6) scale(1 0.95)">(</text>
<text class="pl" x="768.72" y="498.6">d</text>
<text class="pl" transform="translate(793.3 498.6) scale(1 0.95)">)</text>
<text class="pl" transform="translate(143.5 921.5) scale(1 0.95)">(</text>
<text class="pl" x="158.82" y="921.5">e</text>
<text class="pl" transform="translate(179.23 921.5) scale(1 0.95)">)</text>
<text class="pl" transform="translate(753.5 903.4) scale(1 0.95)">(</text>
<text class="pl" x="768.82" y="903.4">f</text>
<text class="pl" transform="translate(784.14 903.4) scale(1 0.95)">)</text>
<text class="pl" transform="translate(143.6 1317.4) scale(1 0.95)">(</text>
<text class="pl" x="158.92" y="1317.4">g</text>
<text class="pl" transform="translate(181.92 1317.4) scale(1 0.95)">)</text>
<text class="pl" transform="translate(753.5 1317.4) scale(1 0.95)">(</text>
<text class="pl" x="768.82" y="1317.4">h</text>
<text class="pl" transform="translate(793.4 1317.4) scale(1 0.95)">)</text>
<g transform="translate(35.5 281.7) rotate(-90)">
<text transform="translate(-0.79 0)" font-size="25.6" font-style="italic">P</text>
<text transform="translate(15.61 7.4)" font-size="17">N</text>
<text transform="translate(34.81 0)" font-size="25.6">(µmol m</text>
<text transform="translate(128.25 -13.5) scale(0.86 1)" font-size="17">-2</text>
<text transform="translate(150.79 0)" font-size="25.6">s</text>
<text transform="translate(163.05 -13.5) scale(0.86 1)" font-size="17">-1</text>
<text transform="translate(178.35 0)" font-size="25.6">)</text>
</g>
<g transform="translate(37.7 748) rotate(-90)">
<text transform="translate(-0.05 0)" font-size="25.6" font-style="italic">g</text>
<text transform="translate(13.93 7.4)" font-size="17">s</text>
<text transform="translate(27.31 0)" font-size="25.6">(µmol mol</text>
<text transform="translate(140.45 -7.2) scale(0.86 1)" font-size="17">-2</text>
<text transform="translate(161.49 0)" font-size="25.6">s</text>
<text transform="translate(174.35 -7.2) scale(0.86 1)" font-size="17">-1</text>
<text transform="translate(189.35 0)" font-size="25.6">)</text>
</g>
<g transform="translate(49 1139.6) rotate(-90)">
<text transform="translate(-0.79 0)" font-size="25.6" font-style="italic">E</text>
<text transform="translate(23.31 0)" font-size="25.6">(mmol m</text>
<text transform="translate(122.65 -13.5) scale(0.86 1)" font-size="17">-2</text>
<text transform="translate(137.99 0)" font-size="25.6">s</text>
<text transform="translate(150.35 -13.5) scale(0.86 1)" font-size="17">-1</text>
<text transform="translate(165.55 0)" font-size="25.6">)</text>
</g>
<g transform="translate(28 1507.2) rotate(-90)">
<text transform="translate(-1.41 0)" font-size="25.6" font-style="italic">C</text>
<text transform="translate(15.76 7.4)" font-size="17">i</text>
<text transform="translate(24.31 0)" font-size="25.6">(µmol mol</text>
<text transform="translate(137.05 -13.5) scale(0.86 1)" font-size="17">-1</text>
<text transform="translate(160.45 0)" font-size="25.6">)</text>
</g>
<text class="ax" x="408" y="1741.6">Times courses during and after sudden heat shock (h)</text>
<rect x="394.2" y="453.3" width="269" height="136.5" fill="#fff" stroke="#1e1e1e" stroke-width="1.25"/>
<line x1="405.2" y1="478.5" x2="456.8" y2="478.5" stroke="#000" stroke-width="2.2"/>
<circle cx="431" cy="478.5" r="10.3" fill="#000"/>
<text class="lg" x="469" y="486.1">SHS-ambient</text>
<line x1="405.2" y1="507.7" x2="456.8" y2="507.7" stroke="#000" stroke-width="2.2"/>
<circle cx="431" cy="507.7" r="9.8" fill="#fff" stroke="#000" stroke-width="1.3"/>
<text class="lg" x="469" y="515.3">SHS-elevated</text>
<line x1="405.2" y1="536.6" x2="456.8" y2="536.6" stroke="#000" stroke-width="2.2" stroke-linecap="round" stroke-dasharray="10 6.3" stroke-dashoffset="-1.1"/>
<path d="M421.3 530.7L440.7 530.7L431 547.9Z" fill="#000" stroke="#000" stroke-width="1.3" stroke-linejoin="miter"/>
<text class="lg" x="469" y="544.2">Nonheat-ambient</text>
<line x1="405.2" y1="565.8" x2="456.8" y2="565.8" stroke="#000" stroke-width="2.2" stroke-linecap="round" stroke-dasharray="10 6.3" stroke-dashoffset="-1.1"/>
<path d="M421.3 571.6L440.7 571.6L431 554.4Z" fill="#fff" stroke="#000" stroke-width="1.3" stroke-linejoin="miter"/>
<text class="lg" x="469" y="573.4">Nonheat-elevated</text>
</svg></body></html>
